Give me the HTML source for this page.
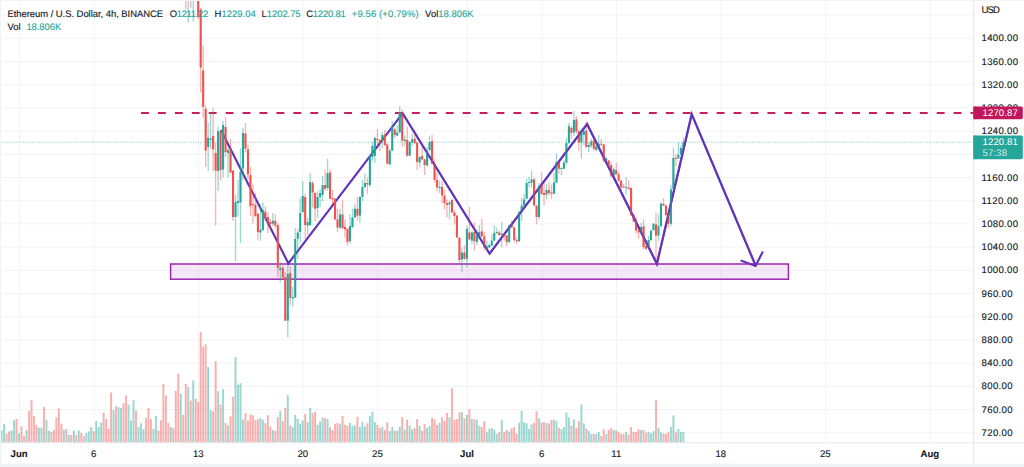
<!DOCTYPE html>
<html lang="en"><head><meta charset="utf-8"><title>ETHUSD 4h</title>
<style>html,body{margin:0;padding:0;background:#fff;}body{width:1024px;height:467px;overflow:hidden;}svg{display:block;}text{font-family:"Liberation Sans",sans-serif;text-rendering:geometricPrecision;}</style>
</head><body>
<svg width="1024" height="467" viewBox="0 0 1024 467">
<rect x="0" y="0" width="1024" height="467" fill="#ffffff"/>
<g stroke="#f2f3f7" stroke-width="1">
<line x1="0" y1="432.80" x2="973.5" y2="432.80"/>
<line x1="0" y1="409.59" x2="973.5" y2="409.59"/>
<line x1="0" y1="386.38" x2="973.5" y2="386.38"/>
<line x1="0" y1="363.18" x2="973.5" y2="363.18"/>
<line x1="0" y1="339.97" x2="973.5" y2="339.97"/>
<line x1="0" y1="316.76" x2="973.5" y2="316.76"/>
<line x1="0" y1="293.55" x2="973.5" y2="293.55"/>
<line x1="0" y1="270.34" x2="973.5" y2="270.34"/>
<line x1="0" y1="247.14" x2="973.5" y2="247.14"/>
<line x1="0" y1="223.93" x2="973.5" y2="223.93"/>
<line x1="0" y1="200.72" x2="973.5" y2="200.72"/>
<line x1="0" y1="177.51" x2="973.5" y2="177.51"/>
<line x1="0" y1="154.30" x2="973.5" y2="154.30"/>
<line x1="0" y1="131.10" x2="973.5" y2="131.10"/>
<line x1="0" y1="107.89" x2="973.5" y2="107.89"/>
<line x1="0" y1="84.68" x2="973.5" y2="84.68"/>
<line x1="0" y1="61.47" x2="973.5" y2="61.47"/>
<line x1="0" y1="38.26" x2="973.5" y2="38.26"/>
<line x1="0" y1="15.06" x2="973.5" y2="15.06"/>
<line x1="19.44" y1="0" x2="19.44" y2="442.8"/>
<line x1="94.09" y1="0" x2="94.09" y2="442.8"/>
<line x1="198.60" y1="0" x2="198.60" y2="442.8"/>
<line x1="303.11" y1="0" x2="303.11" y2="442.8"/>
<line x1="377.76" y1="0" x2="377.76" y2="442.8"/>
<line x1="467.34" y1="0" x2="467.34" y2="442.8"/>
<line x1="541.99" y1="0" x2="541.99" y2="442.8"/>
<line x1="616.64" y1="0" x2="616.64" y2="442.8"/>
<line x1="721.15" y1="0" x2="721.15" y2="442.8"/>
<line x1="825.66" y1="0" x2="825.66" y2="442.8"/>
<line x1="930.17" y1="0" x2="930.17" y2="442.8"/>
</g>
<g>
<rect x="0.80" y="430.62" width="1.7" height="11.68" fill="rgba(38,166,154,0.45)" stroke="rgba(38,166,154,0.2)" stroke-width="0.4"/>
<rect x="3.29" y="424.38" width="1.7" height="17.93" fill="rgba(38,166,154,0.45)" stroke="rgba(38,166,154,0.2)" stroke-width="0.4"/>
<rect x="5.77" y="434.06" width="1.7" height="8.24" fill="rgba(239,83,80,0.45)" stroke="rgba(239,83,80,0.2)" stroke-width="0.4"/>
<rect x="8.26" y="431.72" width="1.7" height="10.58" fill="rgba(239,83,80,0.45)" stroke="rgba(239,83,80,0.2)" stroke-width="0.4"/>
<rect x="10.75" y="430.62" width="1.7" height="11.68" fill="rgba(38,166,154,0.45)" stroke="rgba(38,166,154,0.2)" stroke-width="0.4"/>
<rect x="13.24" y="420.31" width="1.7" height="21.99" fill="rgba(38,166,154,0.45)" stroke="rgba(38,166,154,0.2)" stroke-width="0.4"/>
<rect x="15.73" y="419.06" width="1.7" height="23.24" fill="rgba(239,83,80,0.45)" stroke="rgba(239,83,80,0.2)" stroke-width="0.4"/>
<rect x="18.21" y="433.28" width="1.7" height="9.02" fill="rgba(38,166,154,0.45)" stroke="rgba(38,166,154,0.2)" stroke-width="0.4"/>
<rect x="20.70" y="426.56" width="1.7" height="15.74" fill="rgba(239,83,80,0.45)" stroke="rgba(239,83,80,0.2)" stroke-width="0.4"/>
<rect x="23.19" y="435.94" width="1.7" height="6.36" fill="rgba(239,83,80,0.45)" stroke="rgba(239,83,80,0.2)" stroke-width="0.4"/>
<rect x="25.68" y="430.31" width="1.7" height="11.99" fill="rgba(38,166,154,0.45)" stroke="rgba(38,166,154,0.2)" stroke-width="0.4"/>
<rect x="28.17" y="410.94" width="1.7" height="31.36" fill="rgba(239,83,80,0.45)" stroke="rgba(239,83,80,0.2)" stroke-width="0.4"/>
<rect x="30.65" y="400.00" width="1.7" height="42.30" fill="rgba(239,83,80,0.45)" stroke="rgba(239,83,80,0.2)" stroke-width="0.4"/>
<rect x="33.14" y="416.41" width="1.7" height="25.89" fill="rgba(239,83,80,0.45)" stroke="rgba(239,83,80,0.2)" stroke-width="0.4"/>
<rect x="35.63" y="425.16" width="1.7" height="17.14" fill="rgba(239,83,80,0.45)" stroke="rgba(239,83,80,0.2)" stroke-width="0.4"/>
<rect x="38.12" y="427.81" width="1.7" height="14.49" fill="rgba(38,166,154,0.45)" stroke="rgba(38,166,154,0.2)" stroke-width="0.4"/>
<rect x="40.61" y="427.81" width="1.7" height="14.49" fill="rgba(38,166,154,0.45)" stroke="rgba(38,166,154,0.2)" stroke-width="0.4"/>
<rect x="43.09" y="407.19" width="1.7" height="35.11" fill="rgba(239,83,80,0.45)" stroke="rgba(239,83,80,0.2)" stroke-width="0.4"/>
<rect x="45.58" y="420.00" width="1.7" height="22.30" fill="rgba(38,166,154,0.45)" stroke="rgba(38,166,154,0.2)" stroke-width="0.4"/>
<rect x="48.07" y="430.94" width="1.7" height="11.36" fill="rgba(38,166,154,0.45)" stroke="rgba(38,166,154,0.2)" stroke-width="0.4"/>
<rect x="50.56" y="432.19" width="1.7" height="10.11" fill="rgba(239,83,80,0.45)" stroke="rgba(239,83,80,0.2)" stroke-width="0.4"/>
<rect x="53.05" y="430.16" width="1.7" height="12.14" fill="rgba(239,83,80,0.45)" stroke="rgba(239,83,80,0.2)" stroke-width="0.4"/>
<rect x="55.53" y="417.66" width="1.7" height="24.64" fill="rgba(239,83,80,0.45)" stroke="rgba(239,83,80,0.2)" stroke-width="0.4"/>
<rect x="58.02" y="408.75" width="1.7" height="33.55" fill="rgba(239,83,80,0.45)" stroke="rgba(239,83,80,0.2)" stroke-width="0.4"/>
<rect x="60.51" y="423.91" width="1.7" height="18.39" fill="rgba(239,83,80,0.45)" stroke="rgba(239,83,80,0.2)" stroke-width="0.4"/>
<rect x="63.00" y="430.00" width="1.7" height="12.30" fill="rgba(38,166,154,0.45)" stroke="rgba(38,166,154,0.2)" stroke-width="0.4"/>
<rect x="65.49" y="429.06" width="1.7" height="13.24" fill="rgba(239,83,80,0.45)" stroke="rgba(239,83,80,0.2)" stroke-width="0.4"/>
<rect x="67.97" y="435.00" width="1.7" height="7.30" fill="rgba(38,166,154,0.45)" stroke="rgba(38,166,154,0.2)" stroke-width="0.4"/>
<rect x="70.46" y="435.00" width="1.7" height="7.30" fill="rgba(239,83,80,0.45)" stroke="rgba(239,83,80,0.2)" stroke-width="0.4"/>
<rect x="72.95" y="430.62" width="1.7" height="11.68" fill="rgba(38,166,154,0.45)" stroke="rgba(38,166,154,0.2)" stroke-width="0.4"/>
<rect x="75.44" y="435.00" width="1.7" height="7.30" fill="rgba(239,83,80,0.45)" stroke="rgba(239,83,80,0.2)" stroke-width="0.4"/>
<rect x="77.93" y="430.62" width="1.7" height="11.68" fill="rgba(38,166,154,0.45)" stroke="rgba(38,166,154,0.2)" stroke-width="0.4"/>
<rect x="80.41" y="432.97" width="1.7" height="9.33" fill="rgba(239,83,80,0.45)" stroke="rgba(239,83,80,0.2)" stroke-width="0.4"/>
<rect x="82.90" y="436.09" width="1.7" height="6.21" fill="rgba(239,83,80,0.45)" stroke="rgba(239,83,80,0.2)" stroke-width="0.4"/>
<rect x="85.39" y="433.44" width="1.7" height="8.86" fill="rgba(38,166,154,0.45)" stroke="rgba(38,166,154,0.2)" stroke-width="0.4"/>
<rect x="87.88" y="431.72" width="1.7" height="10.58" fill="rgba(38,166,154,0.45)" stroke="rgba(38,166,154,0.2)" stroke-width="0.4"/>
<rect x="90.37" y="427.19" width="1.7" height="15.11" fill="rgba(38,166,154,0.45)" stroke="rgba(38,166,154,0.2)" stroke-width="0.4"/>
<rect x="92.85" y="431.41" width="1.7" height="10.89" fill="rgba(239,83,80,0.45)" stroke="rgba(239,83,80,0.2)" stroke-width="0.4"/>
<rect x="95.34" y="421.25" width="1.7" height="21.05" fill="rgba(38,166,154,0.45)" stroke="rgba(38,166,154,0.2)" stroke-width="0.4"/>
<rect x="97.83" y="427.34" width="1.7" height="14.96" fill="rgba(38,166,154,0.45)" stroke="rgba(38,166,154,0.2)" stroke-width="0.4"/>
<rect x="100.32" y="422.66" width="1.7" height="19.64" fill="rgba(38,166,154,0.45)" stroke="rgba(38,166,154,0.2)" stroke-width="0.4"/>
<rect x="102.81" y="412.97" width="1.7" height="29.33" fill="rgba(239,83,80,0.45)" stroke="rgba(239,83,80,0.2)" stroke-width="0.4"/>
<rect x="105.29" y="419.22" width="1.7" height="23.08" fill="rgba(239,83,80,0.45)" stroke="rgba(239,83,80,0.2)" stroke-width="0.4"/>
<rect x="107.78" y="428.91" width="1.7" height="13.39" fill="rgba(239,83,80,0.45)" stroke="rgba(239,83,80,0.2)" stroke-width="0.4"/>
<rect x="110.27" y="392.66" width="1.7" height="49.64" fill="rgba(239,83,80,0.45)" stroke="rgba(239,83,80,0.2)" stroke-width="0.4"/>
<rect x="112.76" y="410.31" width="1.7" height="31.99" fill="rgba(38,166,154,0.45)" stroke="rgba(38,166,154,0.2)" stroke-width="0.4"/>
<rect x="115.25" y="406.25" width="1.7" height="36.05" fill="rgba(239,83,80,0.45)" stroke="rgba(239,83,80,0.2)" stroke-width="0.4"/>
<rect x="117.73" y="407.50" width="1.7" height="34.80" fill="rgba(38,166,154,0.45)" stroke="rgba(38,166,154,0.2)" stroke-width="0.4"/>
<rect x="120.22" y="407.97" width="1.7" height="34.33" fill="rgba(38,166,154,0.45)" stroke="rgba(38,166,154,0.2)" stroke-width="0.4"/>
<rect x="122.71" y="403.12" width="1.7" height="39.18" fill="rgba(239,83,80,0.45)" stroke="rgba(239,83,80,0.2)" stroke-width="0.4"/>
<rect x="125.20" y="395.78" width="1.7" height="46.52" fill="rgba(239,83,80,0.45)" stroke="rgba(239,83,80,0.2)" stroke-width="0.4"/>
<rect x="127.69" y="404.69" width="1.7" height="37.61" fill="rgba(38,166,154,0.45)" stroke="rgba(38,166,154,0.2)" stroke-width="0.4"/>
<rect x="130.17" y="420.78" width="1.7" height="21.52" fill="rgba(38,166,154,0.45)" stroke="rgba(38,166,154,0.2)" stroke-width="0.4"/>
<rect x="132.66" y="400.16" width="1.7" height="42.14" fill="rgba(38,166,154,0.45)" stroke="rgba(38,166,154,0.2)" stroke-width="0.4"/>
<rect x="135.15" y="410.94" width="1.7" height="31.36" fill="rgba(239,83,80,0.45)" stroke="rgba(239,83,80,0.2)" stroke-width="0.4"/>
<rect x="137.64" y="427.19" width="1.7" height="15.11" fill="rgba(38,166,154,0.45)" stroke="rgba(38,166,154,0.2)" stroke-width="0.4"/>
<rect x="140.13" y="423.44" width="1.7" height="18.86" fill="rgba(38,166,154,0.45)" stroke="rgba(38,166,154,0.2)" stroke-width="0.4"/>
<rect x="142.61" y="429.38" width="1.7" height="12.93" fill="rgba(38,166,154,0.45)" stroke="rgba(38,166,154,0.2)" stroke-width="0.4"/>
<rect x="145.10" y="417.97" width="1.7" height="24.33" fill="rgba(239,83,80,0.45)" stroke="rgba(239,83,80,0.2)" stroke-width="0.4"/>
<rect x="147.59" y="408.28" width="1.7" height="34.02" fill="rgba(239,83,80,0.45)" stroke="rgba(239,83,80,0.2)" stroke-width="0.4"/>
<rect x="150.08" y="419.22" width="1.7" height="23.08" fill="rgba(239,83,80,0.45)" stroke="rgba(239,83,80,0.2)" stroke-width="0.4"/>
<rect x="152.57" y="429.06" width="1.7" height="13.24" fill="rgba(38,166,154,0.45)" stroke="rgba(38,166,154,0.2)" stroke-width="0.4"/>
<rect x="155.05" y="416.09" width="1.7" height="26.21" fill="rgba(38,166,154,0.45)" stroke="rgba(38,166,154,0.2)" stroke-width="0.4"/>
<rect x="157.54" y="430.94" width="1.7" height="11.36" fill="rgba(239,83,80,0.45)" stroke="rgba(239,83,80,0.2)" stroke-width="0.4"/>
<rect x="160.03" y="420.31" width="1.7" height="21.99" fill="rgba(239,83,80,0.45)" stroke="rgba(239,83,80,0.2)" stroke-width="0.4"/>
<rect x="162.52" y="384.06" width="1.7" height="58.24" fill="rgba(239,83,80,0.45)" stroke="rgba(239,83,80,0.2)" stroke-width="0.4"/>
<rect x="165.01" y="395.78" width="1.7" height="46.52" fill="rgba(239,83,80,0.45)" stroke="rgba(239,83,80,0.2)" stroke-width="0.4"/>
<rect x="167.49" y="423.12" width="1.7" height="19.18" fill="rgba(239,83,80,0.45)" stroke="rgba(239,83,80,0.2)" stroke-width="0.4"/>
<rect x="169.98" y="427.03" width="1.7" height="15.27" fill="rgba(38,166,154,0.45)" stroke="rgba(38,166,154,0.2)" stroke-width="0.4"/>
<rect x="172.47" y="428.12" width="1.7" height="14.18" fill="rgba(239,83,80,0.45)" stroke="rgba(239,83,80,0.2)" stroke-width="0.4"/>
<rect x="174.96" y="391.09" width="1.7" height="51.21" fill="rgba(239,83,80,0.45)" stroke="rgba(239,83,80,0.2)" stroke-width="0.4"/>
<rect x="177.45" y="373.91" width="1.7" height="68.39" fill="rgba(239,83,80,0.45)" stroke="rgba(239,83,80,0.2)" stroke-width="0.4"/>
<rect x="179.93" y="393.91" width="1.7" height="48.39" fill="rgba(38,166,154,0.45)" stroke="rgba(38,166,154,0.2)" stroke-width="0.4"/>
<rect x="182.42" y="415.00" width="1.7" height="27.30" fill="rgba(239,83,80,0.45)" stroke="rgba(239,83,80,0.2)" stroke-width="0.4"/>
<rect x="184.91" y="384.06" width="1.7" height="58.24" fill="rgba(239,83,80,0.45)" stroke="rgba(239,83,80,0.2)" stroke-width="0.4"/>
<rect x="187.40" y="387.19" width="1.7" height="55.11" fill="rgba(38,166,154,0.45)" stroke="rgba(38,166,154,0.2)" stroke-width="0.4"/>
<rect x="189.89" y="400.78" width="1.7" height="41.52" fill="rgba(239,83,80,0.45)" stroke="rgba(239,83,80,0.2)" stroke-width="0.4"/>
<rect x="192.37" y="380.47" width="1.7" height="61.83" fill="rgba(38,166,154,0.45)" stroke="rgba(38,166,154,0.2)" stroke-width="0.4"/>
<rect x="194.86" y="398.91" width="1.7" height="43.39" fill="rgba(239,83,80,0.45)" stroke="rgba(239,83,80,0.2)" stroke-width="0.4"/>
<rect x="197.35" y="402.34" width="1.7" height="39.96" fill="rgba(239,83,80,0.45)" stroke="rgba(239,83,80,0.2)" stroke-width="0.4"/>
<rect x="199.84" y="332.34" width="1.7" height="109.96" fill="rgba(239,83,80,0.45)" stroke="rgba(239,83,80,0.2)" stroke-width="0.4"/>
<rect x="202.33" y="346.88" width="1.7" height="95.43" fill="rgba(239,83,80,0.45)" stroke="rgba(239,83,80,0.2)" stroke-width="0.4"/>
<rect x="204.81" y="344.53" width="1.7" height="97.77" fill="rgba(239,83,80,0.45)" stroke="rgba(239,83,80,0.2)" stroke-width="0.4"/>
<rect x="207.30" y="367.19" width="1.7" height="75.11" fill="rgba(38,166,154,0.45)" stroke="rgba(38,166,154,0.2)" stroke-width="0.4"/>
<rect x="209.79" y="410.31" width="1.7" height="31.99" fill="rgba(38,166,154,0.45)" stroke="rgba(38,166,154,0.2)" stroke-width="0.4"/>
<rect x="212.28" y="411.41" width="1.7" height="30.89" fill="rgba(239,83,80,0.45)" stroke="rgba(239,83,80,0.2)" stroke-width="0.4"/>
<rect x="214.77" y="361.56" width="1.7" height="80.74" fill="rgba(239,83,80,0.45)" stroke="rgba(239,83,80,0.2)" stroke-width="0.4"/>
<rect x="217.25" y="391.41" width="1.7" height="50.89" fill="rgba(38,166,154,0.45)" stroke="rgba(38,166,154,0.2)" stroke-width="0.4"/>
<rect x="219.74" y="404.69" width="1.7" height="37.61" fill="rgba(239,83,80,0.45)" stroke="rgba(239,83,80,0.2)" stroke-width="0.4"/>
<rect x="222.23" y="389.53" width="1.7" height="52.77" fill="rgba(38,166,154,0.45)" stroke="rgba(38,166,154,0.2)" stroke-width="0.4"/>
<rect x="224.72" y="423.12" width="1.7" height="19.18" fill="rgba(239,83,80,0.45)" stroke="rgba(239,83,80,0.2)" stroke-width="0.4"/>
<rect x="227.21" y="425.47" width="1.7" height="16.83" fill="rgba(38,166,154,0.45)" stroke="rgba(38,166,154,0.2)" stroke-width="0.4"/>
<rect x="229.69" y="416.41" width="1.7" height="25.89" fill="rgba(239,83,80,0.45)" stroke="rgba(239,83,80,0.2)" stroke-width="0.4"/>
<rect x="232.18" y="396.88" width="1.7" height="45.43" fill="rgba(239,83,80,0.45)" stroke="rgba(239,83,80,0.2)" stroke-width="0.4"/>
<rect x="234.67" y="357.34" width="1.7" height="84.96" fill="rgba(38,166,154,0.45)" stroke="rgba(38,166,154,0.2)" stroke-width="0.4"/>
<rect x="237.16" y="384.84" width="1.7" height="57.46" fill="rgba(38,166,154,0.45)" stroke="rgba(38,166,154,0.2)" stroke-width="0.4"/>
<rect x="239.65" y="383.28" width="1.7" height="59.02" fill="rgba(38,166,154,0.45)" stroke="rgba(38,166,154,0.2)" stroke-width="0.4"/>
<rect x="242.13" y="419.53" width="1.7" height="22.77" fill="rgba(38,166,154,0.45)" stroke="rgba(38,166,154,0.2)" stroke-width="0.4"/>
<rect x="244.62" y="413.28" width="1.7" height="29.02" fill="rgba(239,83,80,0.45)" stroke="rgba(239,83,80,0.2)" stroke-width="0.4"/>
<rect x="247.11" y="420.78" width="1.7" height="21.52" fill="rgba(239,83,80,0.45)" stroke="rgba(239,83,80,0.2)" stroke-width="0.4"/>
<rect x="249.60" y="414.53" width="1.7" height="27.77" fill="rgba(239,83,80,0.45)" stroke="rgba(239,83,80,0.2)" stroke-width="0.4"/>
<rect x="252.09" y="415.31" width="1.7" height="26.99" fill="rgba(239,83,80,0.45)" stroke="rgba(239,83,80,0.2)" stroke-width="0.4"/>
<rect x="254.57" y="420.31" width="1.7" height="21.99" fill="rgba(239,83,80,0.45)" stroke="rgba(239,83,80,0.2)" stroke-width="0.4"/>
<rect x="257.06" y="419.22" width="1.7" height="23.08" fill="rgba(239,83,80,0.45)" stroke="rgba(239,83,80,0.2)" stroke-width="0.4"/>
<rect x="259.55" y="418.12" width="1.7" height="24.18" fill="rgba(38,166,154,0.45)" stroke="rgba(38,166,154,0.2)" stroke-width="0.4"/>
<rect x="262.04" y="420.00" width="1.7" height="22.30" fill="rgba(38,166,154,0.45)" stroke="rgba(38,166,154,0.2)" stroke-width="0.4"/>
<rect x="264.53" y="423.44" width="1.7" height="18.86" fill="rgba(239,83,80,0.45)" stroke="rgba(239,83,80,0.2)" stroke-width="0.4"/>
<rect x="267.01" y="415.31" width="1.7" height="26.99" fill="rgba(239,83,80,0.45)" stroke="rgba(239,83,80,0.2)" stroke-width="0.4"/>
<rect x="269.50" y="426.56" width="1.7" height="15.74" fill="rgba(239,83,80,0.45)" stroke="rgba(239,83,80,0.2)" stroke-width="0.4"/>
<rect x="271.99" y="430.16" width="1.7" height="12.14" fill="rgba(38,166,154,0.45)" stroke="rgba(38,166,154,0.2)" stroke-width="0.4"/>
<rect x="274.48" y="430.94" width="1.7" height="11.36" fill="rgba(239,83,80,0.45)" stroke="rgba(239,83,80,0.2)" stroke-width="0.4"/>
<rect x="276.97" y="417.19" width="1.7" height="25.11" fill="rgba(239,83,80,0.45)" stroke="rgba(239,83,80,0.2)" stroke-width="0.4"/>
<rect x="279.45" y="411.25" width="1.7" height="31.05" fill="rgba(38,166,154,0.45)" stroke="rgba(38,166,154,0.2)" stroke-width="0.4"/>
<rect x="281.94" y="421.25" width="1.7" height="21.05" fill="rgba(239,83,80,0.45)" stroke="rgba(239,83,80,0.2)" stroke-width="0.4"/>
<rect x="284.43" y="407.97" width="1.7" height="34.33" fill="rgba(239,83,80,0.45)" stroke="rgba(239,83,80,0.2)" stroke-width="0.4"/>
<rect x="286.92" y="395.47" width="1.7" height="46.83" fill="rgba(38,166,154,0.45)" stroke="rgba(38,166,154,0.2)" stroke-width="0.4"/>
<rect x="289.41" y="425.78" width="1.7" height="16.52" fill="rgba(239,83,80,0.45)" stroke="rgba(239,83,80,0.2)" stroke-width="0.4"/>
<rect x="291.89" y="427.34" width="1.7" height="14.96" fill="rgba(38,166,154,0.45)" stroke="rgba(38,166,154,0.2)" stroke-width="0.4"/>
<rect x="294.38" y="415.00" width="1.7" height="27.30" fill="rgba(38,166,154,0.45)" stroke="rgba(38,166,154,0.2)" stroke-width="0.4"/>
<rect x="296.87" y="419.06" width="1.7" height="23.24" fill="rgba(38,166,154,0.45)" stroke="rgba(38,166,154,0.2)" stroke-width="0.4"/>
<rect x="299.36" y="423.91" width="1.7" height="18.39" fill="rgba(38,166,154,0.45)" stroke="rgba(38,166,154,0.2)" stroke-width="0.4"/>
<rect x="301.85" y="420.78" width="1.7" height="21.52" fill="rgba(38,166,154,0.45)" stroke="rgba(38,166,154,0.2)" stroke-width="0.4"/>
<rect x="304.33" y="414.22" width="1.7" height="28.08" fill="rgba(239,83,80,0.45)" stroke="rgba(239,83,80,0.2)" stroke-width="0.4"/>
<rect x="306.82" y="422.34" width="1.7" height="19.96" fill="rgba(38,166,154,0.45)" stroke="rgba(38,166,154,0.2)" stroke-width="0.4"/>
<rect x="309.31" y="407.97" width="1.7" height="34.33" fill="rgba(38,166,154,0.45)" stroke="rgba(38,166,154,0.2)" stroke-width="0.4"/>
<rect x="311.80" y="413.28" width="1.7" height="29.02" fill="rgba(239,83,80,0.45)" stroke="rgba(239,83,80,0.2)" stroke-width="0.4"/>
<rect x="314.29" y="411.88" width="1.7" height="30.43" fill="rgba(239,83,80,0.45)" stroke="rgba(239,83,80,0.2)" stroke-width="0.4"/>
<rect x="316.77" y="425.00" width="1.7" height="17.30" fill="rgba(38,166,154,0.45)" stroke="rgba(38,166,154,0.2)" stroke-width="0.4"/>
<rect x="319.26" y="421.88" width="1.7" height="20.43" fill="rgba(38,166,154,0.45)" stroke="rgba(38,166,154,0.2)" stroke-width="0.4"/>
<rect x="321.75" y="417.66" width="1.7" height="24.64" fill="rgba(38,166,154,0.45)" stroke="rgba(38,166,154,0.2)" stroke-width="0.4"/>
<rect x="324.24" y="418.44" width="1.7" height="23.86" fill="rgba(239,83,80,0.45)" stroke="rgba(239,83,80,0.2)" stroke-width="0.4"/>
<rect x="326.73" y="419.06" width="1.7" height="23.24" fill="rgba(38,166,154,0.45)" stroke="rgba(38,166,154,0.2)" stroke-width="0.4"/>
<rect x="329.21" y="427.34" width="1.7" height="14.96" fill="rgba(239,83,80,0.45)" stroke="rgba(239,83,80,0.2)" stroke-width="0.4"/>
<rect x="331.70" y="430.16" width="1.7" height="12.14" fill="rgba(239,83,80,0.45)" stroke="rgba(239,83,80,0.2)" stroke-width="0.4"/>
<rect x="334.19" y="423.91" width="1.7" height="18.39" fill="rgba(239,83,80,0.45)" stroke="rgba(239,83,80,0.2)" stroke-width="0.4"/>
<rect x="336.68" y="423.12" width="1.7" height="19.18" fill="rgba(239,83,80,0.45)" stroke="rgba(239,83,80,0.2)" stroke-width="0.4"/>
<rect x="339.17" y="424.38" width="1.7" height="17.93" fill="rgba(38,166,154,0.45)" stroke="rgba(38,166,154,0.2)" stroke-width="0.4"/>
<rect x="341.65" y="416.09" width="1.7" height="26.21" fill="rgba(239,83,80,0.45)" stroke="rgba(239,83,80,0.2)" stroke-width="0.4"/>
<rect x="344.14" y="425.00" width="1.7" height="17.30" fill="rgba(239,83,80,0.45)" stroke="rgba(239,83,80,0.2)" stroke-width="0.4"/>
<rect x="346.63" y="425.94" width="1.7" height="16.36" fill="rgba(239,83,80,0.45)" stroke="rgba(239,83,80,0.2)" stroke-width="0.4"/>
<rect x="349.12" y="423.12" width="1.7" height="19.18" fill="rgba(38,166,154,0.45)" stroke="rgba(38,166,154,0.2)" stroke-width="0.4"/>
<rect x="351.61" y="426.25" width="1.7" height="16.05" fill="rgba(38,166,154,0.45)" stroke="rgba(38,166,154,0.2)" stroke-width="0.4"/>
<rect x="354.09" y="425.47" width="1.7" height="16.83" fill="rgba(38,166,154,0.45)" stroke="rgba(38,166,154,0.2)" stroke-width="0.4"/>
<rect x="356.58" y="416.88" width="1.7" height="25.43" fill="rgba(239,83,80,0.45)" stroke="rgba(239,83,80,0.2)" stroke-width="0.4"/>
<rect x="359.07" y="427.03" width="1.7" height="15.27" fill="rgba(38,166,154,0.45)" stroke="rgba(38,166,154,0.2)" stroke-width="0.4"/>
<rect x="361.56" y="421.88" width="1.7" height="20.43" fill="rgba(38,166,154,0.45)" stroke="rgba(38,166,154,0.2)" stroke-width="0.4"/>
<rect x="364.05" y="426.56" width="1.7" height="15.74" fill="rgba(38,166,154,0.45)" stroke="rgba(38,166,154,0.2)" stroke-width="0.4"/>
<rect x="366.53" y="423.44" width="1.7" height="18.86" fill="rgba(239,83,80,0.45)" stroke="rgba(239,83,80,0.2)" stroke-width="0.4"/>
<rect x="369.02" y="416.09" width="1.7" height="26.21" fill="rgba(38,166,154,0.45)" stroke="rgba(38,166,154,0.2)" stroke-width="0.4"/>
<rect x="371.51" y="411.88" width="1.7" height="30.43" fill="rgba(38,166,154,0.45)" stroke="rgba(38,166,154,0.2)" stroke-width="0.4"/>
<rect x="374.00" y="422.03" width="1.7" height="20.27" fill="rgba(38,166,154,0.45)" stroke="rgba(38,166,154,0.2)" stroke-width="0.4"/>
<rect x="376.49" y="425.16" width="1.7" height="17.14" fill="rgba(239,83,80,0.45)" stroke="rgba(239,83,80,0.2)" stroke-width="0.4"/>
<rect x="378.97" y="428.12" width="1.7" height="14.18" fill="rgba(239,83,80,0.45)" stroke="rgba(239,83,80,0.2)" stroke-width="0.4"/>
<rect x="381.46" y="427.03" width="1.7" height="15.27" fill="rgba(38,166,154,0.45)" stroke="rgba(38,166,154,0.2)" stroke-width="0.4"/>
<rect x="383.95" y="430.16" width="1.7" height="12.14" fill="rgba(239,83,80,0.45)" stroke="rgba(239,83,80,0.2)" stroke-width="0.4"/>
<rect x="386.44" y="422.34" width="1.7" height="19.96" fill="rgba(239,83,80,0.45)" stroke="rgba(239,83,80,0.2)" stroke-width="0.4"/>
<rect x="388.93" y="431.25" width="1.7" height="11.05" fill="rgba(38,166,154,0.45)" stroke="rgba(38,166,154,0.2)" stroke-width="0.4"/>
<rect x="391.41" y="427.34" width="1.7" height="14.96" fill="rgba(38,166,154,0.45)" stroke="rgba(38,166,154,0.2)" stroke-width="0.4"/>
<rect x="393.90" y="430.94" width="1.7" height="11.36" fill="rgba(239,83,80,0.45)" stroke="rgba(239,83,80,0.2)" stroke-width="0.4"/>
<rect x="396.39" y="430.94" width="1.7" height="11.36" fill="rgba(38,166,154,0.45)" stroke="rgba(38,166,154,0.2)" stroke-width="0.4"/>
<rect x="398.88" y="427.03" width="1.7" height="15.27" fill="rgba(38,166,154,0.45)" stroke="rgba(38,166,154,0.2)" stroke-width="0.4"/>
<rect x="401.37" y="417.34" width="1.7" height="24.96" fill="rgba(239,83,80,0.45)" stroke="rgba(239,83,80,0.2)" stroke-width="0.4"/>
<rect x="403.85" y="429.69" width="1.7" height="12.61" fill="rgba(38,166,154,0.45)" stroke="rgba(38,166,154,0.2)" stroke-width="0.4"/>
<rect x="406.34" y="420.00" width="1.7" height="22.30" fill="rgba(239,83,80,0.45)" stroke="rgba(239,83,80,0.2)" stroke-width="0.4"/>
<rect x="408.83" y="425.78" width="1.7" height="16.52" fill="rgba(38,166,154,0.45)" stroke="rgba(38,166,154,0.2)" stroke-width="0.4"/>
<rect x="411.32" y="429.38" width="1.7" height="12.93" fill="rgba(38,166,154,0.45)" stroke="rgba(38,166,154,0.2)" stroke-width="0.4"/>
<rect x="413.81" y="428.12" width="1.7" height="14.18" fill="rgba(239,83,80,0.45)" stroke="rgba(239,83,80,0.2)" stroke-width="0.4"/>
<rect x="416.29" y="419.22" width="1.7" height="23.08" fill="rgba(239,83,80,0.45)" stroke="rgba(239,83,80,0.2)" stroke-width="0.4"/>
<rect x="418.78" y="425.94" width="1.7" height="16.36" fill="rgba(38,166,154,0.45)" stroke="rgba(38,166,154,0.2)" stroke-width="0.4"/>
<rect x="421.27" y="430.94" width="1.7" height="11.36" fill="rgba(239,83,80,0.45)" stroke="rgba(239,83,80,0.2)" stroke-width="0.4"/>
<rect x="423.76" y="424.22" width="1.7" height="18.08" fill="rgba(239,83,80,0.45)" stroke="rgba(239,83,80,0.2)" stroke-width="0.4"/>
<rect x="426.25" y="428.12" width="1.7" height="14.18" fill="rgba(38,166,154,0.45)" stroke="rgba(38,166,154,0.2)" stroke-width="0.4"/>
<rect x="428.73" y="426.25" width="1.7" height="16.05" fill="rgba(38,166,154,0.45)" stroke="rgba(38,166,154,0.2)" stroke-width="0.4"/>
<rect x="431.22" y="417.97" width="1.7" height="24.33" fill="rgba(239,83,80,0.45)" stroke="rgba(239,83,80,0.2)" stroke-width="0.4"/>
<rect x="433.71" y="419.69" width="1.7" height="22.61" fill="rgba(239,83,80,0.45)" stroke="rgba(239,83,80,0.2)" stroke-width="0.4"/>
<rect x="436.20" y="425.16" width="1.7" height="17.14" fill="rgba(239,83,80,0.45)" stroke="rgba(239,83,80,0.2)" stroke-width="0.4"/>
<rect x="438.69" y="423.12" width="1.7" height="19.18" fill="rgba(38,166,154,0.45)" stroke="rgba(38,166,154,0.2)" stroke-width="0.4"/>
<rect x="441.17" y="417.34" width="1.7" height="24.96" fill="rgba(239,83,80,0.45)" stroke="rgba(239,83,80,0.2)" stroke-width="0.4"/>
<rect x="443.66" y="421.09" width="1.7" height="21.21" fill="rgba(239,83,80,0.45)" stroke="rgba(239,83,80,0.2)" stroke-width="0.4"/>
<rect x="446.15" y="412.97" width="1.7" height="29.33" fill="rgba(239,83,80,0.45)" stroke="rgba(239,83,80,0.2)" stroke-width="0.4"/>
<rect x="448.64" y="417.66" width="1.7" height="24.64" fill="rgba(38,166,154,0.45)" stroke="rgba(38,166,154,0.2)" stroke-width="0.4"/>
<rect x="451.13" y="388.44" width="1.7" height="53.86" fill="rgba(239,83,80,0.45)" stroke="rgba(239,83,80,0.2)" stroke-width="0.4"/>
<rect x="453.61" y="420.00" width="1.7" height="22.30" fill="rgba(239,83,80,0.45)" stroke="rgba(239,83,80,0.2)" stroke-width="0.4"/>
<rect x="456.10" y="419.22" width="1.7" height="23.08" fill="rgba(239,83,80,0.45)" stroke="rgba(239,83,80,0.2)" stroke-width="0.4"/>
<rect x="458.59" y="412.19" width="1.7" height="30.11" fill="rgba(239,83,80,0.45)" stroke="rgba(239,83,80,0.2)" stroke-width="0.4"/>
<rect x="461.08" y="412.19" width="1.7" height="30.11" fill="rgba(38,166,154,0.45)" stroke="rgba(38,166,154,0.2)" stroke-width="0.4"/>
<rect x="463.57" y="418.44" width="1.7" height="23.86" fill="rgba(239,83,80,0.45)" stroke="rgba(239,83,80,0.2)" stroke-width="0.4"/>
<rect x="466.05" y="415.00" width="1.7" height="27.30" fill="rgba(38,166,154,0.45)" stroke="rgba(38,166,154,0.2)" stroke-width="0.4"/>
<rect x="468.54" y="409.53" width="1.7" height="32.77" fill="rgba(239,83,80,0.45)" stroke="rgba(239,83,80,0.2)" stroke-width="0.4"/>
<rect x="471.03" y="419.22" width="1.7" height="23.08" fill="rgba(38,166,154,0.45)" stroke="rgba(38,166,154,0.2)" stroke-width="0.4"/>
<rect x="473.52" y="419.53" width="1.7" height="22.77" fill="rgba(239,83,80,0.45)" stroke="rgba(239,83,80,0.2)" stroke-width="0.4"/>
<rect x="476.01" y="420.00" width="1.7" height="22.30" fill="rgba(38,166,154,0.45)" stroke="rgba(38,166,154,0.2)" stroke-width="0.4"/>
<rect x="478.49" y="426.25" width="1.7" height="16.05" fill="rgba(38,166,154,0.45)" stroke="rgba(38,166,154,0.2)" stroke-width="0.4"/>
<rect x="480.98" y="427.34" width="1.7" height="14.96" fill="rgba(239,83,80,0.45)" stroke="rgba(239,83,80,0.2)" stroke-width="0.4"/>
<rect x="483.47" y="421.25" width="1.7" height="21.05" fill="rgba(239,83,80,0.45)" stroke="rgba(239,83,80,0.2)" stroke-width="0.4"/>
<rect x="485.96" y="432.50" width="1.7" height="9.80" fill="rgba(38,166,154,0.45)" stroke="rgba(38,166,154,0.2)" stroke-width="0.4"/>
<rect x="488.45" y="428.91" width="1.7" height="13.39" fill="rgba(38,166,154,0.45)" stroke="rgba(38,166,154,0.2)" stroke-width="0.4"/>
<rect x="490.93" y="428.28" width="1.7" height="14.02" fill="rgba(38,166,154,0.45)" stroke="rgba(38,166,154,0.2)" stroke-width="0.4"/>
<rect x="493.42" y="429.69" width="1.7" height="12.61" fill="rgba(38,166,154,0.45)" stroke="rgba(38,166,154,0.2)" stroke-width="0.4"/>
<rect x="495.91" y="434.06" width="1.7" height="8.24" fill="rgba(38,166,154,0.45)" stroke="rgba(38,166,154,0.2)" stroke-width="0.4"/>
<rect x="498.40" y="432.19" width="1.7" height="10.11" fill="rgba(239,83,80,0.45)" stroke="rgba(239,83,80,0.2)" stroke-width="0.4"/>
<rect x="500.89" y="420.31" width="1.7" height="21.99" fill="rgba(38,166,154,0.45)" stroke="rgba(38,166,154,0.2)" stroke-width="0.4"/>
<rect x="503.37" y="432.19" width="1.7" height="10.11" fill="rgba(239,83,80,0.45)" stroke="rgba(239,83,80,0.2)" stroke-width="0.4"/>
<rect x="505.86" y="430.16" width="1.7" height="12.14" fill="rgba(239,83,80,0.45)" stroke="rgba(239,83,80,0.2)" stroke-width="0.4"/>
<rect x="508.35" y="431.72" width="1.7" height="10.58" fill="rgba(38,166,154,0.45)" stroke="rgba(38,166,154,0.2)" stroke-width="0.4"/>
<rect x="510.84" y="428.59" width="1.7" height="13.71" fill="rgba(239,83,80,0.45)" stroke="rgba(239,83,80,0.2)" stroke-width="0.4"/>
<rect x="513.33" y="427.34" width="1.7" height="14.96" fill="rgba(239,83,80,0.45)" stroke="rgba(239,83,80,0.2)" stroke-width="0.4"/>
<rect x="515.81" y="434.06" width="1.7" height="8.24" fill="rgba(239,83,80,0.45)" stroke="rgba(239,83,80,0.2)" stroke-width="0.4"/>
<rect x="518.30" y="422.81" width="1.7" height="19.49" fill="rgba(38,166,154,0.45)" stroke="rgba(38,166,154,0.2)" stroke-width="0.4"/>
<rect x="520.79" y="410.94" width="1.7" height="31.36" fill="rgba(38,166,154,0.45)" stroke="rgba(38,166,154,0.2)" stroke-width="0.4"/>
<rect x="523.28" y="422.34" width="1.7" height="19.96" fill="rgba(38,166,154,0.45)" stroke="rgba(38,166,154,0.2)" stroke-width="0.4"/>
<rect x="525.77" y="423.44" width="1.7" height="18.86" fill="rgba(38,166,154,0.45)" stroke="rgba(38,166,154,0.2)" stroke-width="0.4"/>
<rect x="528.25" y="429.06" width="1.7" height="13.24" fill="rgba(38,166,154,0.45)" stroke="rgba(38,166,154,0.2)" stroke-width="0.4"/>
<rect x="530.74" y="424.69" width="1.7" height="17.61" fill="rgba(38,166,154,0.45)" stroke="rgba(38,166,154,0.2)" stroke-width="0.4"/>
<rect x="533.23" y="422.81" width="1.7" height="19.49" fill="rgba(239,83,80,0.45)" stroke="rgba(239,83,80,0.2)" stroke-width="0.4"/>
<rect x="535.72" y="411.41" width="1.7" height="30.89" fill="rgba(239,83,80,0.45)" stroke="rgba(239,83,80,0.2)" stroke-width="0.4"/>
<rect x="538.21" y="418.44" width="1.7" height="23.86" fill="rgba(38,166,154,0.45)" stroke="rgba(38,166,154,0.2)" stroke-width="0.4"/>
<rect x="540.69" y="422.66" width="1.7" height="19.64" fill="rgba(239,83,80,0.45)" stroke="rgba(239,83,80,0.2)" stroke-width="0.4"/>
<rect x="543.18" y="422.34" width="1.7" height="19.96" fill="rgba(239,83,80,0.45)" stroke="rgba(239,83,80,0.2)" stroke-width="0.4"/>
<rect x="545.67" y="423.12" width="1.7" height="19.18" fill="rgba(38,166,154,0.45)" stroke="rgba(38,166,154,0.2)" stroke-width="0.4"/>
<rect x="548.16" y="423.59" width="1.7" height="18.71" fill="rgba(239,83,80,0.45)" stroke="rgba(239,83,80,0.2)" stroke-width="0.4"/>
<rect x="550.65" y="420.00" width="1.7" height="22.30" fill="rgba(239,83,80,0.45)" stroke="rgba(239,83,80,0.2)" stroke-width="0.4"/>
<rect x="553.13" y="420.00" width="1.7" height="22.30" fill="rgba(38,166,154,0.45)" stroke="rgba(38,166,154,0.2)" stroke-width="0.4"/>
<rect x="555.62" y="421.25" width="1.7" height="21.05" fill="rgba(38,166,154,0.45)" stroke="rgba(38,166,154,0.2)" stroke-width="0.4"/>
<rect x="558.11" y="427.81" width="1.7" height="14.49" fill="rgba(239,83,80,0.45)" stroke="rgba(239,83,80,0.2)" stroke-width="0.4"/>
<rect x="560.60" y="429.38" width="1.7" height="12.93" fill="rgba(38,166,154,0.45)" stroke="rgba(38,166,154,0.2)" stroke-width="0.4"/>
<rect x="563.09" y="427.34" width="1.7" height="14.96" fill="rgba(38,166,154,0.45)" stroke="rgba(38,166,154,0.2)" stroke-width="0.4"/>
<rect x="565.57" y="412.66" width="1.7" height="29.64" fill="rgba(38,166,154,0.45)" stroke="rgba(38,166,154,0.2)" stroke-width="0.4"/>
<rect x="568.06" y="417.81" width="1.7" height="24.49" fill="rgba(38,166,154,0.45)" stroke="rgba(38,166,154,0.2)" stroke-width="0.4"/>
<rect x="570.55" y="425.78" width="1.7" height="16.52" fill="rgba(239,83,80,0.45)" stroke="rgba(239,83,80,0.2)" stroke-width="0.4"/>
<rect x="573.04" y="419.69" width="1.7" height="22.61" fill="rgba(38,166,154,0.45)" stroke="rgba(38,166,154,0.2)" stroke-width="0.4"/>
<rect x="575.53" y="427.81" width="1.7" height="14.49" fill="rgba(239,83,80,0.45)" stroke="rgba(239,83,80,0.2)" stroke-width="0.4"/>
<rect x="578.01" y="421.56" width="1.7" height="20.74" fill="rgba(239,83,80,0.45)" stroke="rgba(239,83,80,0.2)" stroke-width="0.4"/>
<rect x="580.50" y="404.69" width="1.7" height="37.61" fill="rgba(38,166,154,0.45)" stroke="rgba(38,166,154,0.2)" stroke-width="0.4"/>
<rect x="582.99" y="423.59" width="1.7" height="18.71" fill="rgba(38,166,154,0.45)" stroke="rgba(38,166,154,0.2)" stroke-width="0.4"/>
<rect x="585.48" y="428.91" width="1.7" height="13.39" fill="rgba(239,83,80,0.45)" stroke="rgba(239,83,80,0.2)" stroke-width="0.4"/>
<rect x="587.97" y="431.25" width="1.7" height="11.05" fill="rgba(38,166,154,0.45)" stroke="rgba(38,166,154,0.2)" stroke-width="0.4"/>
<rect x="590.45" y="434.06" width="1.7" height="8.24" fill="rgba(38,166,154,0.45)" stroke="rgba(38,166,154,0.2)" stroke-width="0.4"/>
<rect x="592.94" y="434.06" width="1.7" height="8.24" fill="rgba(239,83,80,0.45)" stroke="rgba(239,83,80,0.2)" stroke-width="0.4"/>
<rect x="595.43" y="434.06" width="1.7" height="8.24" fill="rgba(38,166,154,0.45)" stroke="rgba(38,166,154,0.2)" stroke-width="0.4"/>
<rect x="597.92" y="432.19" width="1.7" height="10.11" fill="rgba(38,166,154,0.45)" stroke="rgba(38,166,154,0.2)" stroke-width="0.4"/>
<rect x="600.41" y="436.09" width="1.7" height="6.21" fill="rgba(239,83,80,0.45)" stroke="rgba(239,83,80,0.2)" stroke-width="0.4"/>
<rect x="602.89" y="429.53" width="1.7" height="12.77" fill="rgba(239,83,80,0.45)" stroke="rgba(239,83,80,0.2)" stroke-width="0.4"/>
<rect x="605.38" y="434.06" width="1.7" height="8.24" fill="rgba(38,166,154,0.45)" stroke="rgba(38,166,154,0.2)" stroke-width="0.4"/>
<rect x="607.87" y="430.16" width="1.7" height="12.14" fill="rgba(239,83,80,0.45)" stroke="rgba(239,83,80,0.2)" stroke-width="0.4"/>
<rect x="610.36" y="428.12" width="1.7" height="14.18" fill="rgba(239,83,80,0.45)" stroke="rgba(239,83,80,0.2)" stroke-width="0.4"/>
<rect x="612.85" y="430.31" width="1.7" height="11.99" fill="rgba(38,166,154,0.45)" stroke="rgba(38,166,154,0.2)" stroke-width="0.4"/>
<rect x="615.33" y="430.62" width="1.7" height="11.68" fill="rgba(239,83,80,0.45)" stroke="rgba(239,83,80,0.2)" stroke-width="0.4"/>
<rect x="617.82" y="432.50" width="1.7" height="9.80" fill="rgba(239,83,80,0.45)" stroke="rgba(239,83,80,0.2)" stroke-width="0.4"/>
<rect x="620.31" y="434.06" width="1.7" height="8.24" fill="rgba(239,83,80,0.45)" stroke="rgba(239,83,80,0.2)" stroke-width="0.4"/>
<rect x="622.80" y="434.06" width="1.7" height="8.24" fill="rgba(239,83,80,0.45)" stroke="rgba(239,83,80,0.2)" stroke-width="0.4"/>
<rect x="625.29" y="432.03" width="1.7" height="10.27" fill="rgba(38,166,154,0.45)" stroke="rgba(38,166,154,0.2)" stroke-width="0.4"/>
<rect x="627.77" y="434.84" width="1.7" height="7.46" fill="rgba(239,83,80,0.45)" stroke="rgba(239,83,80,0.2)" stroke-width="0.4"/>
<rect x="630.26" y="427.34" width="1.7" height="14.96" fill="rgba(239,83,80,0.45)" stroke="rgba(239,83,80,0.2)" stroke-width="0.4"/>
<rect x="632.75" y="432.03" width="1.7" height="10.27" fill="rgba(239,83,80,0.45)" stroke="rgba(239,83,80,0.2)" stroke-width="0.4"/>
<rect x="635.24" y="432.19" width="1.7" height="10.11" fill="rgba(239,83,80,0.45)" stroke="rgba(239,83,80,0.2)" stroke-width="0.4"/>
<rect x="637.73" y="429.38" width="1.7" height="12.93" fill="rgba(239,83,80,0.45)" stroke="rgba(239,83,80,0.2)" stroke-width="0.4"/>
<rect x="640.21" y="430.16" width="1.7" height="12.14" fill="rgba(38,166,154,0.45)" stroke="rgba(38,166,154,0.2)" stroke-width="0.4"/>
<rect x="642.70" y="430.16" width="1.7" height="12.14" fill="rgba(239,83,80,0.45)" stroke="rgba(239,83,80,0.2)" stroke-width="0.4"/>
<rect x="645.19" y="432.97" width="1.7" height="9.33" fill="rgba(239,83,80,0.45)" stroke="rgba(239,83,80,0.2)" stroke-width="0.4"/>
<rect x="647.68" y="432.03" width="1.7" height="10.27" fill="rgba(38,166,154,0.45)" stroke="rgba(38,166,154,0.2)" stroke-width="0.4"/>
<rect x="650.17" y="433.28" width="1.7" height="9.02" fill="rgba(38,166,154,0.45)" stroke="rgba(38,166,154,0.2)" stroke-width="0.4"/>
<rect x="652.65" y="431.41" width="1.7" height="10.89" fill="rgba(38,166,154,0.45)" stroke="rgba(38,166,154,0.2)" stroke-width="0.4"/>
<rect x="655.14" y="400.16" width="1.7" height="42.14" fill="rgba(239,83,80,0.45)" stroke="rgba(239,83,80,0.2)" stroke-width="0.4"/>
<rect x="657.63" y="427.81" width="1.7" height="14.49" fill="rgba(38,166,154,0.45)" stroke="rgba(38,166,154,0.2)" stroke-width="0.4"/>
<rect x="660.12" y="432.50" width="1.7" height="9.80" fill="rgba(38,166,154,0.45)" stroke="rgba(38,166,154,0.2)" stroke-width="0.4"/>
<rect x="662.61" y="433.75" width="1.7" height="8.55" fill="rgba(239,83,80,0.45)" stroke="rgba(239,83,80,0.2)" stroke-width="0.4"/>
<rect x="665.09" y="434.06" width="1.7" height="8.24" fill="rgba(239,83,80,0.45)" stroke="rgba(239,83,80,0.2)" stroke-width="0.4"/>
<rect x="667.58" y="432.03" width="1.7" height="10.27" fill="rgba(239,83,80,0.45)" stroke="rgba(239,83,80,0.2)" stroke-width="0.4"/>
<rect x="670.07" y="427.03" width="1.7" height="15.27" fill="rgba(38,166,154,0.45)" stroke="rgba(38,166,154,0.2)" stroke-width="0.4"/>
<rect x="672.56" y="415.62" width="1.7" height="26.68" fill="rgba(38,166,154,0.45)" stroke="rgba(38,166,154,0.2)" stroke-width="0.4"/>
<rect x="675.05" y="432.50" width="1.7" height="9.80" fill="rgba(239,83,80,0.45)" stroke="rgba(239,83,80,0.2)" stroke-width="0.4"/>
<rect x="677.53" y="429.06" width="1.7" height="13.24" fill="rgba(38,166,154,0.45)" stroke="rgba(38,166,154,0.2)" stroke-width="0.4"/>
<rect x="680.02" y="432.03" width="1.7" height="10.27" fill="rgba(38,166,154,0.45)" stroke="rgba(38,166,154,0.2)" stroke-width="0.4"/>
<rect x="682.51" y="432.03" width="1.7" height="10.27" fill="rgba(38,166,154,0.45)" stroke="rgba(38,166,154,0.2)" stroke-width="0.4"/>
</g>
<rect x="170.6" y="264" width="617.8" height="15.2" fill="rgba(156,39,176,0.10)" stroke="#9c27b0" stroke-width="1.5"/>
<polyline points="221.3,130.8 288.4,263.4 402.6,113.3 489.6,253.7 587.1,124.0 656.9,263.8 691.7,114.2 755.5,265.3" fill="none" stroke="#6033b8" stroke-width="2.15" stroke-linejoin="miter" stroke-miterlimit="10" stroke-linecap="round"/>
<polyline points="741.5,260.8 755.5,265.9 762.5,252.3" fill="none" stroke="#6033b8" stroke-width="2.15" stroke-linejoin="miter" stroke-linecap="round"/>
<line x1="141" y1="112.9" x2="973.5" y2="112.9" stroke="#c41f60" stroke-width="2" stroke-dasharray="7.9 9.03"/>
<line x1="0" y1="142.2" x2="973.5" y2="142.2" stroke="#26a69a" stroke-opacity="0.55" stroke-width="1" stroke-dasharray="1 1.3"/>
<g>
<rect x="185.11" y="0.00" width="1.3" height="9.40" fill="#ef5350" fill-opacity="0.45"/>
<rect x="187.60" y="0.00" width="1.3" height="22.50" fill="#26a69a" fill-opacity="0.45"/>
<rect x="190.09" y="0.00" width="1.3" height="7.80" fill="#ef5350" fill-opacity="0.45"/>
<rect x="192.57" y="0.00" width="1.3" height="21.60" fill="#26a69a" fill-opacity="0.45"/>
<rect x="197.55" y="-5.00" width="1.3" height="24.00" fill="#ef5350" fill-opacity="0.45"/>
<rect x="197.15" y="-5.00" width="2.1" height="21.90" fill="#ef5350"/>
<rect x="200.04" y="8.10" width="1.3" height="84.40" fill="#ef5350" fill-opacity="0.45"/>
<rect x="199.64" y="9.40" width="2.1" height="58.10" fill="#ef5350"/>
<rect x="202.53" y="45.70" width="1.3" height="71.80" fill="#ef5350" fill-opacity="0.45"/>
<rect x="202.13" y="70.60" width="2.1" height="36.30" fill="#ef5350"/>
<rect x="205.01" y="105.60" width="1.3" height="61.40" fill="#ef5350" fill-opacity="0.45"/>
<rect x="204.61" y="108.75" width="2.1" height="41.85" fill="#ef5350"/>
<rect x="207.50" y="123.00" width="1.3" height="48.00" fill="#26a69a" fill-opacity="0.45"/>
<rect x="207.10" y="137.50" width="2.1" height="9.50" fill="#26a69a"/>
<rect x="209.99" y="112.50" width="1.3" height="36.50" fill="#26a69a" fill-opacity="0.45"/>
<rect x="209.59" y="138.75" width="2.1" height="1.25" fill="#26a69a"/>
<rect x="212.48" y="108.00" width="1.3" height="63.00" fill="#ef5350" fill-opacity="0.45"/>
<rect x="212.08" y="136.00" width="2.1" height="13.40" fill="#ef5350"/>
<rect x="214.97" y="142.50" width="1.3" height="83.10" fill="#ef5350" fill-opacity="0.45"/>
<rect x="214.57" y="153.00" width="2.1" height="17.60" fill="#ef5350"/>
<rect x="217.45" y="126.40" width="1.3" height="64.60" fill="#26a69a" fill-opacity="0.45"/>
<rect x="217.05" y="131.00" width="2.1" height="40.00" fill="#26a69a"/>
<rect x="219.94" y="130.00" width="1.3" height="50.60" fill="#ef5350" fill-opacity="0.45"/>
<rect x="219.54" y="131.40" width="2.1" height="38.60" fill="#ef5350"/>
<rect x="222.43" y="121.00" width="1.3" height="56.50" fill="#26a69a" fill-opacity="0.45"/>
<rect x="222.03" y="125.00" width="2.1" height="44.40" fill="#26a69a"/>
<rect x="224.92" y="117.00" width="1.3" height="40.00" fill="#ef5350" fill-opacity="0.45"/>
<rect x="224.52" y="127.00" width="2.1" height="25.00" fill="#ef5350"/>
<rect x="227.41" y="148.00" width="1.3" height="29.50" fill="#26a69a" fill-opacity="0.45"/>
<rect x="227.01" y="150.00" width="2.1" height="3.00" fill="#26a69a"/>
<rect x="229.89" y="139.00" width="1.3" height="34.00" fill="#ef5350" fill-opacity="0.45"/>
<rect x="229.49" y="150.60" width="2.1" height="21.90" fill="#ef5350"/>
<rect x="232.38" y="170.00" width="1.3" height="51.00" fill="#ef5350" fill-opacity="0.45"/>
<rect x="231.98" y="170.60" width="2.1" height="46.40" fill="#ef5350"/>
<rect x="234.87" y="195.00" width="1.3" height="66.00" fill="#26a69a" fill-opacity="0.45"/>
<rect x="234.47" y="202.00" width="2.1" height="15.00" fill="#26a69a"/>
<rect x="237.36" y="180.00" width="1.3" height="35.60" fill="#26a69a" fill-opacity="0.45"/>
<rect x="236.96" y="201.00" width="2.1" height="2.00" fill="#26a69a"/>
<rect x="239.85" y="148.00" width="1.3" height="95.00" fill="#26a69a" fill-opacity="0.45"/>
<rect x="239.45" y="172.00" width="2.1" height="30.50" fill="#26a69a"/>
<rect x="242.33" y="127.75" width="1.3" height="52.85" fill="#26a69a" fill-opacity="0.45"/>
<rect x="241.93" y="133.00" width="2.1" height="35.50" fill="#26a69a"/>
<rect x="244.82" y="123.00" width="1.3" height="29.50" fill="#ef5350" fill-opacity="0.45"/>
<rect x="244.42" y="133.50" width="2.1" height="15.25" fill="#ef5350"/>
<rect x="247.31" y="145.00" width="1.3" height="34.40" fill="#ef5350" fill-opacity="0.45"/>
<rect x="246.91" y="149.40" width="2.1" height="25.00" fill="#ef5350"/>
<rect x="249.80" y="167.00" width="1.3" height="48.60" fill="#ef5350" fill-opacity="0.45"/>
<rect x="249.40" y="175.00" width="2.1" height="31.30" fill="#ef5350"/>
<rect x="252.29" y="184.70" width="1.3" height="39.05" fill="#ef5350" fill-opacity="0.45"/>
<rect x="251.89" y="204.00" width="2.1" height="1.00" fill="#ef5350"/>
<rect x="254.77" y="193.00" width="1.3" height="24.00" fill="#ef5350" fill-opacity="0.45"/>
<rect x="254.37" y="204.75" width="2.1" height="11.25" fill="#ef5350"/>
<rect x="257.26" y="213.00" width="1.3" height="27.60" fill="#ef5350" fill-opacity="0.45"/>
<rect x="256.86" y="213.75" width="2.1" height="18.25" fill="#ef5350"/>
<rect x="259.75" y="204.00" width="1.3" height="36.60" fill="#26a69a" fill-opacity="0.45"/>
<rect x="259.35" y="229.40" width="2.1" height="3.10" fill="#26a69a"/>
<rect x="262.24" y="202.25" width="1.3" height="28.75" fill="#26a69a" fill-opacity="0.45"/>
<rect x="261.84" y="210.00" width="2.1" height="20.00" fill="#26a69a"/>
<rect x="264.73" y="206.00" width="1.3" height="15.00" fill="#ef5350" fill-opacity="0.45"/>
<rect x="264.33" y="211.60" width="2.1" height="7.15" fill="#ef5350"/>
<rect x="267.21" y="212.50" width="1.3" height="20.50" fill="#ef5350" fill-opacity="0.45"/>
<rect x="266.81" y="217.00" width="2.1" height="5.50" fill="#ef5350"/>
<rect x="269.70" y="219.00" width="1.3" height="10.00" fill="#ef5350" fill-opacity="0.45"/>
<rect x="269.30" y="222.00" width="2.1" height="2.00" fill="#ef5350"/>
<rect x="272.19" y="213.00" width="1.3" height="13.00" fill="#26a69a" fill-opacity="0.45"/>
<rect x="271.79" y="220.60" width="2.1" height="3.15" fill="#26a69a"/>
<rect x="274.68" y="214.00" width="1.3" height="14.00" fill="#ef5350" fill-opacity="0.45"/>
<rect x="274.28" y="221.00" width="2.1" height="4.60" fill="#ef5350"/>
<rect x="277.17" y="223.00" width="1.3" height="54.00" fill="#ef5350" fill-opacity="0.45"/>
<rect x="276.77" y="225.00" width="2.1" height="43.00" fill="#ef5350"/>
<rect x="279.65" y="262.00" width="1.3" height="20.50" fill="#26a69a" fill-opacity="0.45"/>
<rect x="279.25" y="268.00" width="2.1" height="2.00" fill="#26a69a"/>
<rect x="282.14" y="266.00" width="1.3" height="13.00" fill="#ef5350" fill-opacity="0.45"/>
<rect x="281.74" y="267.50" width="2.1" height="10.00" fill="#ef5350"/>
<rect x="284.63" y="272.00" width="1.3" height="49.00" fill="#ef5350" fill-opacity="0.45"/>
<rect x="284.23" y="277.00" width="2.1" height="43.60" fill="#ef5350"/>
<rect x="287.12" y="265.00" width="1.3" height="72.50" fill="#26a69a" fill-opacity="0.45"/>
<rect x="286.72" y="273.75" width="2.1" height="46.85" fill="#26a69a"/>
<rect x="289.61" y="266.00" width="1.3" height="39.00" fill="#ef5350" fill-opacity="0.45"/>
<rect x="289.21" y="273.00" width="2.1" height="25.00" fill="#ef5350"/>
<rect x="292.09" y="287.00" width="1.3" height="20.00" fill="#26a69a" fill-opacity="0.45"/>
<rect x="291.69" y="297.00" width="2.1" height="1.50" fill="#26a69a"/>
<rect x="294.58" y="228.00" width="1.3" height="70.00" fill="#26a69a" fill-opacity="0.45"/>
<rect x="294.18" y="239.00" width="2.1" height="58.50" fill="#26a69a"/>
<rect x="297.07" y="228.75" width="1.3" height="30.00" fill="#26a69a" fill-opacity="0.45"/>
<rect x="296.67" y="232.50" width="2.1" height="6.25" fill="#26a69a"/>
<rect x="299.56" y="198.00" width="1.3" height="44.50" fill="#26a69a" fill-opacity="0.45"/>
<rect x="299.16" y="213.00" width="2.1" height="19.00" fill="#26a69a"/>
<rect x="302.05" y="181.00" width="1.3" height="32.00" fill="#26a69a" fill-opacity="0.45"/>
<rect x="301.65" y="196.00" width="2.1" height="16.00" fill="#26a69a"/>
<rect x="304.53" y="194.00" width="1.3" height="45.00" fill="#ef5350" fill-opacity="0.45"/>
<rect x="304.13" y="197.00" width="2.1" height="28.00" fill="#ef5350"/>
<rect x="307.02" y="218.00" width="1.3" height="17.00" fill="#26a69a" fill-opacity="0.45"/>
<rect x="306.62" y="222.00" width="2.1" height="3.60" fill="#26a69a"/>
<rect x="309.51" y="173.00" width="1.3" height="53.00" fill="#26a69a" fill-opacity="0.45"/>
<rect x="309.11" y="182.00" width="2.1" height="43.00" fill="#26a69a"/>
<rect x="312.00" y="181.00" width="1.3" height="26.50" fill="#ef5350" fill-opacity="0.45"/>
<rect x="311.60" y="183.00" width="2.1" height="9.50" fill="#ef5350"/>
<rect x="314.49" y="192.00" width="1.3" height="29.00" fill="#ef5350" fill-opacity="0.45"/>
<rect x="314.09" y="193.00" width="2.1" height="15.75" fill="#ef5350"/>
<rect x="316.97" y="191.00" width="1.3" height="27.00" fill="#26a69a" fill-opacity="0.45"/>
<rect x="316.57" y="197.00" width="2.1" height="11.00" fill="#26a69a"/>
<rect x="319.46" y="189.00" width="1.3" height="18.00" fill="#26a69a" fill-opacity="0.45"/>
<rect x="319.06" y="193.00" width="2.1" height="4.00" fill="#26a69a"/>
<rect x="321.95" y="176.00" width="1.3" height="25.00" fill="#26a69a" fill-opacity="0.45"/>
<rect x="321.55" y="185.00" width="2.1" height="10.00" fill="#26a69a"/>
<rect x="324.44" y="170.00" width="1.3" height="20.60" fill="#ef5350" fill-opacity="0.45"/>
<rect x="324.04" y="185.00" width="2.1" height="3.75" fill="#ef5350"/>
<rect x="326.93" y="158.75" width="1.3" height="32.25" fill="#26a69a" fill-opacity="0.45"/>
<rect x="326.53" y="173.00" width="2.1" height="15.00" fill="#26a69a"/>
<rect x="329.41" y="169.40" width="1.3" height="29.60" fill="#ef5350" fill-opacity="0.45"/>
<rect x="329.01" y="172.50" width="2.1" height="26.25" fill="#ef5350"/>
<rect x="331.90" y="190.00" width="1.3" height="14.40" fill="#ef5350" fill-opacity="0.45"/>
<rect x="331.50" y="198.00" width="2.1" height="1.40" fill="#ef5350"/>
<rect x="334.39" y="198.00" width="1.3" height="22.00" fill="#ef5350" fill-opacity="0.45"/>
<rect x="333.99" y="198.75" width="2.1" height="20.65" fill="#ef5350"/>
<rect x="336.88" y="208.75" width="1.3" height="23.25" fill="#ef5350" fill-opacity="0.45"/>
<rect x="336.48" y="219.40" width="2.1" height="8.10" fill="#ef5350"/>
<rect x="339.37" y="208.75" width="1.3" height="20.65" fill="#26a69a" fill-opacity="0.45"/>
<rect x="338.97" y="214.40" width="2.1" height="13.10" fill="#26a69a"/>
<rect x="341.85" y="200.00" width="1.3" height="29.00" fill="#ef5350" fill-opacity="0.45"/>
<rect x="341.45" y="214.40" width="2.1" height="13.60" fill="#ef5350"/>
<rect x="344.34" y="219.40" width="1.3" height="18.10" fill="#ef5350" fill-opacity="0.45"/>
<rect x="343.94" y="227.00" width="2.1" height="2.40" fill="#ef5350"/>
<rect x="346.83" y="228.00" width="1.3" height="17.60" fill="#ef5350" fill-opacity="0.45"/>
<rect x="346.43" y="228.75" width="2.1" height="13.25" fill="#ef5350"/>
<rect x="349.32" y="214.40" width="1.3" height="29.35" fill="#26a69a" fill-opacity="0.45"/>
<rect x="348.92" y="226.00" width="2.1" height="15.00" fill="#26a69a"/>
<rect x="351.81" y="208.75" width="1.3" height="19.25" fill="#26a69a" fill-opacity="0.45"/>
<rect x="351.41" y="217.50" width="2.1" height="9.50" fill="#26a69a"/>
<rect x="354.29" y="203.75" width="1.3" height="14.25" fill="#26a69a" fill-opacity="0.45"/>
<rect x="353.89" y="208.75" width="2.1" height="8.75" fill="#26a69a"/>
<rect x="356.78" y="197.00" width="1.3" height="23.60" fill="#ef5350" fill-opacity="0.45"/>
<rect x="356.38" y="208.75" width="2.1" height="6.85" fill="#ef5350"/>
<rect x="359.27" y="196.00" width="1.3" height="26.50" fill="#26a69a" fill-opacity="0.45"/>
<rect x="358.87" y="197.00" width="2.1" height="18.60" fill="#26a69a"/>
<rect x="361.76" y="180.00" width="1.3" height="21.00" fill="#26a69a" fill-opacity="0.45"/>
<rect x="361.36" y="187.00" width="2.1" height="10.00" fill="#26a69a"/>
<rect x="364.25" y="173.75" width="1.3" height="14.25" fill="#26a69a" fill-opacity="0.45"/>
<rect x="363.85" y="183.00" width="2.1" height="4.00" fill="#26a69a"/>
<rect x="366.73" y="177.50" width="1.3" height="16.25" fill="#ef5350" fill-opacity="0.45"/>
<rect x="366.33" y="183.00" width="2.1" height="1.40" fill="#ef5350"/>
<rect x="369.22" y="155.00" width="1.3" height="32.00" fill="#26a69a" fill-opacity="0.45"/>
<rect x="368.82" y="156.00" width="2.1" height="29.00" fill="#26a69a"/>
<rect x="371.71" y="142.00" width="1.3" height="18.60" fill="#26a69a" fill-opacity="0.45"/>
<rect x="371.31" y="146.00" width="2.1" height="11.00" fill="#26a69a"/>
<rect x="374.20" y="137.00" width="1.3" height="26.00" fill="#26a69a" fill-opacity="0.45"/>
<rect x="373.80" y="138.00" width="2.1" height="18.00" fill="#26a69a"/>
<rect x="376.69" y="128.75" width="1.3" height="17.25" fill="#ef5350" fill-opacity="0.45"/>
<rect x="376.29" y="138.75" width="2.1" height="1.25" fill="#ef5350"/>
<rect x="379.17" y="139.00" width="1.3" height="12.00" fill="#ef5350" fill-opacity="0.45"/>
<rect x="378.77" y="140.00" width="2.1" height="2.00" fill="#ef5350"/>
<rect x="381.66" y="132.00" width="1.3" height="16.00" fill="#26a69a" fill-opacity="0.45"/>
<rect x="381.26" y="135.00" width="2.1" height="6.00" fill="#26a69a"/>
<rect x="384.15" y="130.00" width="1.3" height="16.00" fill="#ef5350" fill-opacity="0.45"/>
<rect x="383.75" y="134.40" width="2.1" height="10.60" fill="#ef5350"/>
<rect x="386.64" y="143.00" width="1.3" height="21.00" fill="#ef5350" fill-opacity="0.45"/>
<rect x="386.24" y="144.40" width="2.1" height="19.35" fill="#ef5350"/>
<rect x="389.13" y="149.00" width="1.3" height="16.00" fill="#26a69a" fill-opacity="0.45"/>
<rect x="388.73" y="150.60" width="2.1" height="13.80" fill="#26a69a"/>
<rect x="391.61" y="121.00" width="1.3" height="30.00" fill="#26a69a" fill-opacity="0.45"/>
<rect x="391.21" y="127.00" width="2.1" height="23.60" fill="#26a69a"/>
<rect x="394.10" y="128.00" width="1.3" height="10.00" fill="#ef5350" fill-opacity="0.45"/>
<rect x="393.70" y="129.40" width="2.1" height="5.60" fill="#ef5350"/>
<rect x="396.59" y="125.00" width="1.3" height="11.00" fill="#26a69a" fill-opacity="0.45"/>
<rect x="396.19" y="132.50" width="2.1" height="3.10" fill="#26a69a"/>
<rect x="399.08" y="106.00" width="1.3" height="27.00" fill="#26a69a" fill-opacity="0.45"/>
<rect x="398.68" y="112.50" width="2.1" height="20.00" fill="#26a69a"/>
<rect x="401.57" y="109.40" width="1.3" height="37.60" fill="#ef5350" fill-opacity="0.45"/>
<rect x="401.17" y="112.50" width="2.1" height="28.10" fill="#ef5350"/>
<rect x="404.05" y="135.60" width="1.3" height="10.40" fill="#26a69a" fill-opacity="0.45"/>
<rect x="403.65" y="139.40" width="2.1" height="1.60" fill="#26a69a"/>
<rect x="406.54" y="127.00" width="1.3" height="30.00" fill="#ef5350" fill-opacity="0.45"/>
<rect x="406.14" y="140.00" width="2.1" height="15.60" fill="#ef5350"/>
<rect x="409.03" y="141.00" width="1.3" height="15.00" fill="#26a69a" fill-opacity="0.45"/>
<rect x="408.63" y="142.00" width="2.1" height="13.60" fill="#26a69a"/>
<rect x="411.52" y="133.75" width="1.3" height="12.25" fill="#26a69a" fill-opacity="0.45"/>
<rect x="411.12" y="139.40" width="2.1" height="3.10" fill="#26a69a"/>
<rect x="414.01" y="133.00" width="1.3" height="11.00" fill="#ef5350" fill-opacity="0.45"/>
<rect x="413.61" y="138.75" width="2.1" height="4.25" fill="#ef5350"/>
<rect x="416.49" y="142.00" width="1.3" height="28.00" fill="#ef5350" fill-opacity="0.45"/>
<rect x="416.09" y="142.50" width="2.1" height="19.50" fill="#ef5350"/>
<rect x="418.98" y="156.00" width="1.3" height="11.50" fill="#26a69a" fill-opacity="0.45"/>
<rect x="418.58" y="157.00" width="2.1" height="5.50" fill="#26a69a"/>
<rect x="421.47" y="146.00" width="1.3" height="14.00" fill="#ef5350" fill-opacity="0.45"/>
<rect x="421.07" y="156.00" width="2.1" height="3.40" fill="#ef5350"/>
<rect x="423.96" y="159.00" width="1.3" height="16.00" fill="#ef5350" fill-opacity="0.45"/>
<rect x="423.56" y="159.40" width="2.1" height="5.60" fill="#ef5350"/>
<rect x="426.45" y="147.00" width="1.3" height="19.00" fill="#26a69a" fill-opacity="0.45"/>
<rect x="426.05" y="150.60" width="2.1" height="15.00" fill="#26a69a"/>
<rect x="428.93" y="136.00" width="1.3" height="15.00" fill="#26a69a" fill-opacity="0.45"/>
<rect x="428.53" y="142.00" width="2.1" height="8.00" fill="#26a69a"/>
<rect x="431.42" y="135.00" width="1.3" height="29.00" fill="#ef5350" fill-opacity="0.45"/>
<rect x="431.02" y="141.00" width="2.1" height="22.75" fill="#ef5350"/>
<rect x="433.91" y="158.75" width="1.3" height="23.75" fill="#ef5350" fill-opacity="0.45"/>
<rect x="433.51" y="164.40" width="2.1" height="15.60" fill="#ef5350"/>
<rect x="436.40" y="173.00" width="1.3" height="18.00" fill="#ef5350" fill-opacity="0.45"/>
<rect x="436.00" y="180.00" width="2.1" height="7.50" fill="#ef5350"/>
<rect x="438.89" y="180.60" width="1.3" height="12.40" fill="#26a69a" fill-opacity="0.45"/>
<rect x="438.49" y="187.00" width="2.1" height="1.00" fill="#26a69a"/>
<rect x="441.37" y="181.00" width="1.3" height="22.75" fill="#ef5350" fill-opacity="0.45"/>
<rect x="440.97" y="187.00" width="2.1" height="8.60" fill="#ef5350"/>
<rect x="443.86" y="190.00" width="1.3" height="19.40" fill="#ef5350" fill-opacity="0.45"/>
<rect x="443.46" y="195.60" width="2.1" height="7.40" fill="#ef5350"/>
<rect x="446.35" y="199.40" width="1.3" height="18.10" fill="#ef5350" fill-opacity="0.45"/>
<rect x="445.95" y="203.00" width="2.1" height="2.00" fill="#ef5350"/>
<rect x="448.84" y="201.00" width="1.3" height="18.40" fill="#26a69a" fill-opacity="0.45"/>
<rect x="448.44" y="202.50" width="2.1" height="1.90" fill="#26a69a"/>
<rect x="451.33" y="199.00" width="1.3" height="14.00" fill="#ef5350" fill-opacity="0.45"/>
<rect x="450.93" y="200.00" width="2.1" height="12.50" fill="#ef5350"/>
<rect x="453.81" y="210.00" width="1.3" height="14.40" fill="#ef5350" fill-opacity="0.45"/>
<rect x="453.41" y="212.50" width="2.1" height="3.50" fill="#ef5350"/>
<rect x="456.30" y="215.00" width="1.3" height="23.00" fill="#ef5350" fill-opacity="0.45"/>
<rect x="455.90" y="215.60" width="2.1" height="21.90" fill="#ef5350"/>
<rect x="458.79" y="237.00" width="1.3" height="26.00" fill="#ef5350" fill-opacity="0.45"/>
<rect x="458.39" y="238.00" width="2.1" height="22.00" fill="#ef5350"/>
<rect x="461.28" y="247.50" width="1.3" height="24.50" fill="#26a69a" fill-opacity="0.45"/>
<rect x="460.88" y="252.50" width="2.1" height="6.90" fill="#26a69a"/>
<rect x="463.77" y="245.60" width="1.3" height="14.40" fill="#ef5350" fill-opacity="0.45"/>
<rect x="463.37" y="252.50" width="2.1" height="6.25" fill="#ef5350"/>
<rect x="466.25" y="225.60" width="1.3" height="41.90" fill="#26a69a" fill-opacity="0.45"/>
<rect x="465.85" y="228.75" width="2.1" height="30.00" fill="#26a69a"/>
<rect x="468.74" y="207.00" width="1.3" height="33.00" fill="#ef5350" fill-opacity="0.45"/>
<rect x="468.34" y="232.50" width="2.1" height="6.90" fill="#ef5350"/>
<rect x="471.23" y="231.00" width="1.3" height="13.40" fill="#26a69a" fill-opacity="0.45"/>
<rect x="470.83" y="232.50" width="2.1" height="8.10" fill="#26a69a"/>
<rect x="473.72" y="222.50" width="1.3" height="28.10" fill="#ef5350" fill-opacity="0.45"/>
<rect x="473.32" y="232.00" width="2.1" height="9.25" fill="#ef5350"/>
<rect x="476.21" y="229.40" width="1.3" height="15.60" fill="#26a69a" fill-opacity="0.45"/>
<rect x="475.81" y="235.60" width="2.1" height="6.40" fill="#26a69a"/>
<rect x="478.69" y="225.00" width="1.3" height="13.00" fill="#26a69a" fill-opacity="0.45"/>
<rect x="478.29" y="232.00" width="2.1" height="5.50" fill="#26a69a"/>
<rect x="481.18" y="218.75" width="1.3" height="18.25" fill="#ef5350" fill-opacity="0.45"/>
<rect x="480.78" y="231.25" width="2.1" height="5.00" fill="#ef5350"/>
<rect x="483.67" y="232.00" width="1.3" height="18.00" fill="#ef5350" fill-opacity="0.45"/>
<rect x="483.27" y="236.25" width="2.1" height="11.25" fill="#ef5350"/>
<rect x="486.16" y="240.60" width="1.3" height="9.40" fill="#26a69a" fill-opacity="0.45"/>
<rect x="485.76" y="246.25" width="2.1" height="3.15" fill="#26a69a"/>
<rect x="488.65" y="243.75" width="1.3" height="4.25" fill="#26a69a" fill-opacity="0.45"/>
<rect x="488.25" y="245.00" width="2.1" height="2.50" fill="#26a69a"/>
<rect x="491.13" y="234.40" width="1.3" height="11.60" fill="#26a69a" fill-opacity="0.45"/>
<rect x="490.73" y="240.60" width="2.1" height="5.00" fill="#26a69a"/>
<rect x="493.62" y="225.60" width="1.3" height="15.40" fill="#26a69a" fill-opacity="0.45"/>
<rect x="493.22" y="233.00" width="2.1" height="7.60" fill="#26a69a"/>
<rect x="496.11" y="227.50" width="1.3" height="6.50" fill="#26a69a" fill-opacity="0.45"/>
<rect x="495.71" y="232.00" width="2.1" height="1.00" fill="#26a69a"/>
<rect x="498.60" y="230.60" width="1.3" height="5.40" fill="#ef5350" fill-opacity="0.45"/>
<rect x="498.20" y="232.50" width="2.1" height="2.50" fill="#ef5350"/>
<rect x="501.09" y="222.00" width="1.3" height="25.50" fill="#26a69a" fill-opacity="0.45"/>
<rect x="500.69" y="233.75" width="2.1" height="1.25" fill="#26a69a"/>
<rect x="503.57" y="233.00" width="1.3" height="7.60" fill="#ef5350" fill-opacity="0.45"/>
<rect x="503.17" y="233.75" width="2.1" height="2.50" fill="#ef5350"/>
<rect x="506.06" y="235.00" width="1.3" height="11.25" fill="#ef5350" fill-opacity="0.45"/>
<rect x="505.66" y="235.60" width="2.1" height="6.40" fill="#ef5350"/>
<rect x="508.55" y="224.40" width="1.3" height="18.60" fill="#26a69a" fill-opacity="0.45"/>
<rect x="508.15" y="225.60" width="2.1" height="16.40" fill="#26a69a"/>
<rect x="511.04" y="220.60" width="1.3" height="7.40" fill="#ef5350" fill-opacity="0.45"/>
<rect x="510.64" y="224.40" width="2.1" height="3.10" fill="#ef5350"/>
<rect x="513.53" y="227.00" width="1.3" height="15.50" fill="#ef5350" fill-opacity="0.45"/>
<rect x="513.13" y="227.50" width="2.1" height="12.50" fill="#ef5350"/>
<rect x="516.01" y="237.50" width="1.3" height="6.25" fill="#ef5350" fill-opacity="0.45"/>
<rect x="515.61" y="240.00" width="2.1" height="1.25" fill="#ef5350"/>
<rect x="518.50" y="210.60" width="1.3" height="31.40" fill="#26a69a" fill-opacity="0.45"/>
<rect x="518.10" y="212.00" width="2.1" height="29.25" fill="#26a69a"/>
<rect x="520.99" y="198.00" width="1.3" height="23.25" fill="#26a69a" fill-opacity="0.45"/>
<rect x="520.59" y="205.60" width="2.1" height="6.40" fill="#26a69a"/>
<rect x="523.48" y="193.75" width="1.3" height="12.25" fill="#26a69a" fill-opacity="0.45"/>
<rect x="523.08" y="199.40" width="2.1" height="6.20" fill="#26a69a"/>
<rect x="525.97" y="178.75" width="1.3" height="20.25" fill="#26a69a" fill-opacity="0.45"/>
<rect x="525.57" y="183.00" width="2.1" height="15.75" fill="#26a69a"/>
<rect x="528.45" y="177.00" width="1.3" height="10.50" fill="#26a69a" fill-opacity="0.45"/>
<rect x="528.05" y="182.00" width="2.1" height="1.00" fill="#26a69a"/>
<rect x="530.94" y="170.60" width="1.3" height="16.90" fill="#26a69a" fill-opacity="0.45"/>
<rect x="530.54" y="179.40" width="2.1" height="3.35" fill="#26a69a"/>
<rect x="533.43" y="178.00" width="1.3" height="28.00" fill="#ef5350" fill-opacity="0.45"/>
<rect x="533.03" y="179.40" width="2.1" height="26.20" fill="#ef5350"/>
<rect x="535.92" y="205.00" width="1.3" height="19.40" fill="#ef5350" fill-opacity="0.45"/>
<rect x="535.52" y="205.60" width="2.1" height="11.40" fill="#ef5350"/>
<rect x="538.41" y="183.00" width="1.3" height="36.40" fill="#26a69a" fill-opacity="0.45"/>
<rect x="538.01" y="186.00" width="2.1" height="31.00" fill="#26a69a"/>
<rect x="540.89" y="172.50" width="1.3" height="22.50" fill="#ef5350" fill-opacity="0.45"/>
<rect x="540.49" y="185.00" width="2.1" height="8.75" fill="#ef5350"/>
<rect x="543.38" y="182.00" width="1.3" height="23.60" fill="#ef5350" fill-opacity="0.45"/>
<rect x="542.98" y="193.00" width="2.1" height="2.00" fill="#ef5350"/>
<rect x="545.87" y="183.75" width="1.3" height="15.65" fill="#26a69a" fill-opacity="0.45"/>
<rect x="545.47" y="190.00" width="2.1" height="4.40" fill="#26a69a"/>
<rect x="548.36" y="182.00" width="1.3" height="13.00" fill="#ef5350" fill-opacity="0.45"/>
<rect x="547.96" y="190.00" width="2.1" height="3.00" fill="#ef5350"/>
<rect x="550.85" y="184.40" width="1.3" height="14.35" fill="#ef5350" fill-opacity="0.45"/>
<rect x="550.45" y="192.50" width="2.1" height="1.25" fill="#ef5350"/>
<rect x="553.33" y="172.50" width="1.3" height="21.50" fill="#26a69a" fill-opacity="0.45"/>
<rect x="552.93" y="182.50" width="2.1" height="11.25" fill="#26a69a"/>
<rect x="555.82" y="153.75" width="1.3" height="29.25" fill="#26a69a" fill-opacity="0.45"/>
<rect x="555.42" y="162.00" width="2.1" height="20.50" fill="#26a69a"/>
<rect x="558.31" y="161.00" width="1.3" height="12.75" fill="#ef5350" fill-opacity="0.45"/>
<rect x="557.91" y="162.00" width="2.1" height="6.75" fill="#ef5350"/>
<rect x="560.80" y="167.50" width="1.3" height="7.50" fill="#26a69a" fill-opacity="0.45"/>
<rect x="560.40" y="168.00" width="2.1" height="1.00" fill="#26a69a"/>
<rect x="563.29" y="160.00" width="1.3" height="9.00" fill="#26a69a" fill-opacity="0.45"/>
<rect x="562.89" y="162.50" width="2.1" height="6.25" fill="#26a69a"/>
<rect x="565.77" y="138.00" width="1.3" height="27.00" fill="#26a69a" fill-opacity="0.45"/>
<rect x="565.37" y="143.00" width="2.1" height="19.50" fill="#26a69a"/>
<rect x="568.26" y="123.00" width="1.3" height="21.00" fill="#26a69a" fill-opacity="0.45"/>
<rect x="567.86" y="126.25" width="2.1" height="16.75" fill="#26a69a"/>
<rect x="570.75" y="126.00" width="1.3" height="12.75" fill="#ef5350" fill-opacity="0.45"/>
<rect x="570.35" y="128.00" width="2.1" height="4.75" fill="#ef5350"/>
<rect x="573.24" y="111.00" width="1.3" height="25.00" fill="#26a69a" fill-opacity="0.45"/>
<rect x="572.84" y="120.00" width="2.1" height="12.50" fill="#26a69a"/>
<rect x="575.73" y="116.00" width="1.3" height="17.75" fill="#ef5350" fill-opacity="0.45"/>
<rect x="575.33" y="119.40" width="2.1" height="11.85" fill="#ef5350"/>
<rect x="578.21" y="130.00" width="1.3" height="21.00" fill="#ef5350" fill-opacity="0.45"/>
<rect x="577.81" y="131.25" width="2.1" height="11.25" fill="#ef5350"/>
<rect x="580.70" y="128.75" width="1.3" height="30.00" fill="#26a69a" fill-opacity="0.45"/>
<rect x="580.30" y="132.00" width="2.1" height="10.50" fill="#26a69a"/>
<rect x="583.19" y="127.00" width="1.3" height="18.00" fill="#26a69a" fill-opacity="0.45"/>
<rect x="582.79" y="131.25" width="2.1" height="3.75" fill="#26a69a"/>
<rect x="585.68" y="122.50" width="1.3" height="25.50" fill="#ef5350" fill-opacity="0.45"/>
<rect x="585.28" y="130.60" width="2.1" height="16.40" fill="#ef5350"/>
<rect x="588.17" y="142.00" width="1.3" height="10.00" fill="#26a69a" fill-opacity="0.45"/>
<rect x="587.77" y="145.00" width="2.1" height="2.00" fill="#26a69a"/>
<rect x="590.65" y="138.75" width="1.3" height="9.25" fill="#26a69a" fill-opacity="0.45"/>
<rect x="590.25" y="141.25" width="2.1" height="4.35" fill="#26a69a"/>
<rect x="593.14" y="139.40" width="1.3" height="11.85" fill="#ef5350" fill-opacity="0.45"/>
<rect x="592.74" y="140.60" width="2.1" height="8.15" fill="#ef5350"/>
<rect x="595.63" y="143.00" width="1.3" height="8.00" fill="#26a69a" fill-opacity="0.45"/>
<rect x="595.23" y="146.25" width="2.1" height="3.75" fill="#26a69a"/>
<rect x="598.12" y="135.00" width="1.3" height="13.00" fill="#26a69a" fill-opacity="0.45"/>
<rect x="597.72" y="143.75" width="2.1" height="3.25" fill="#26a69a"/>
<rect x="600.61" y="138.75" width="1.3" height="7.25" fill="#ef5350" fill-opacity="0.45"/>
<rect x="600.21" y="143.75" width="2.1" height="1.00" fill="#ef5350"/>
<rect x="603.09" y="144.00" width="1.3" height="18.50" fill="#ef5350" fill-opacity="0.45"/>
<rect x="602.69" y="144.40" width="2.1" height="16.20" fill="#ef5350"/>
<rect x="605.58" y="157.00" width="1.3" height="4.00" fill="#26a69a" fill-opacity="0.45"/>
<rect x="605.18" y="158.75" width="2.1" height="1.85" fill="#26a69a"/>
<rect x="608.07" y="160.00" width="1.3" height="6.00" fill="#ef5350" fill-opacity="0.45"/>
<rect x="607.67" y="160.60" width="2.1" height="4.40" fill="#ef5350"/>
<rect x="610.56" y="162.00" width="1.3" height="16.00" fill="#ef5350" fill-opacity="0.45"/>
<rect x="610.16" y="165.00" width="2.1" height="10.60" fill="#ef5350"/>
<rect x="613.05" y="168.00" width="1.3" height="8.00" fill="#26a69a" fill-opacity="0.45"/>
<rect x="612.65" y="169.40" width="2.1" height="6.20" fill="#26a69a"/>
<rect x="615.53" y="163.00" width="1.3" height="12.00" fill="#ef5350" fill-opacity="0.45"/>
<rect x="615.13" y="170.00" width="2.1" height="4.40" fill="#ef5350"/>
<rect x="618.02" y="172.00" width="1.3" height="10.00" fill="#ef5350" fill-opacity="0.45"/>
<rect x="617.62" y="174.40" width="2.1" height="6.20" fill="#ef5350"/>
<rect x="620.51" y="180.00" width="1.3" height="10.00" fill="#ef5350" fill-opacity="0.45"/>
<rect x="620.11" y="180.60" width="2.1" height="6.90" fill="#ef5350"/>
<rect x="623.00" y="183.75" width="1.3" height="4.25" fill="#ef5350" fill-opacity="0.45"/>
<rect x="622.60" y="186.50" width="2.1" height="1.00" fill="#ef5350"/>
<rect x="625.49" y="177.00" width="1.3" height="17.40" fill="#26a69a" fill-opacity="0.45"/>
<rect x="625.09" y="187.00" width="2.1" height="1.00" fill="#26a69a"/>
<rect x="627.97" y="180.00" width="1.3" height="10.00" fill="#ef5350" fill-opacity="0.45"/>
<rect x="627.57" y="187.50" width="2.1" height="1.25" fill="#ef5350"/>
<rect x="630.46" y="187.00" width="1.3" height="29.00" fill="#ef5350" fill-opacity="0.45"/>
<rect x="630.06" y="188.00" width="2.1" height="27.00" fill="#ef5350"/>
<rect x="632.95" y="213.75" width="1.3" height="9.25" fill="#ef5350" fill-opacity="0.45"/>
<rect x="632.55" y="215.00" width="2.1" height="6.25" fill="#ef5350"/>
<rect x="635.44" y="217.00" width="1.3" height="16.75" fill="#ef5350" fill-opacity="0.45"/>
<rect x="635.04" y="221.25" width="2.1" height="9.35" fill="#ef5350"/>
<rect x="637.93" y="229.00" width="1.3" height="9.75" fill="#ef5350" fill-opacity="0.45"/>
<rect x="637.53" y="230.60" width="2.1" height="1.90" fill="#ef5350"/>
<rect x="640.41" y="222.50" width="1.3" height="11.50" fill="#26a69a" fill-opacity="0.45"/>
<rect x="640.01" y="227.00" width="2.1" height="6.00" fill="#26a69a"/>
<rect x="642.90" y="219.40" width="1.3" height="30.00" fill="#ef5350" fill-opacity="0.45"/>
<rect x="642.50" y="226.25" width="2.1" height="20.75" fill="#ef5350"/>
<rect x="645.39" y="242.50" width="1.3" height="7.50" fill="#ef5350" fill-opacity="0.45"/>
<rect x="644.99" y="246.00" width="2.1" height="2.75" fill="#ef5350"/>
<rect x="647.88" y="236.00" width="1.3" height="12.00" fill="#26a69a" fill-opacity="0.45"/>
<rect x="647.48" y="240.00" width="2.1" height="7.50" fill="#26a69a"/>
<rect x="650.37" y="229.40" width="1.3" height="11.85" fill="#26a69a" fill-opacity="0.45"/>
<rect x="649.97" y="230.60" width="2.1" height="9.40" fill="#26a69a"/>
<rect x="652.85" y="223.00" width="1.3" height="8.00" fill="#26a69a" fill-opacity="0.45"/>
<rect x="652.45" y="223.75" width="2.1" height="6.25" fill="#26a69a"/>
<rect x="655.34" y="212.50" width="1.3" height="51.25" fill="#ef5350" fill-opacity="0.45"/>
<rect x="654.94" y="224.40" width="2.1" height="11.20" fill="#ef5350"/>
<rect x="657.83" y="214.40" width="1.3" height="26.85" fill="#26a69a" fill-opacity="0.45"/>
<rect x="657.43" y="226.25" width="2.1" height="9.35" fill="#26a69a"/>
<rect x="660.32" y="202.00" width="1.3" height="25.00" fill="#26a69a" fill-opacity="0.45"/>
<rect x="659.92" y="203.75" width="2.1" height="22.50" fill="#26a69a"/>
<rect x="662.81" y="198.00" width="1.3" height="8.00" fill="#ef5350" fill-opacity="0.45"/>
<rect x="662.41" y="203.75" width="2.1" height="1.85" fill="#ef5350"/>
<rect x="665.29" y="205.00" width="1.3" height="11.00" fill="#ef5350" fill-opacity="0.45"/>
<rect x="664.89" y="205.60" width="2.1" height="9.40" fill="#ef5350"/>
<rect x="667.78" y="213.00" width="1.3" height="15.00" fill="#ef5350" fill-opacity="0.45"/>
<rect x="667.38" y="213.75" width="2.1" height="10.00" fill="#ef5350"/>
<rect x="670.27" y="185.00" width="1.3" height="41.25" fill="#26a69a" fill-opacity="0.45"/>
<rect x="669.87" y="189.40" width="2.1" height="34.35" fill="#26a69a"/>
<rect x="672.76" y="147.60" width="1.3" height="42.40" fill="#26a69a" fill-opacity="0.45"/>
<rect x="672.36" y="157.90" width="2.1" height="31.10" fill="#26a69a"/>
<rect x="675.25" y="154.00" width="1.3" height="12.00" fill="#ef5350" fill-opacity="0.45"/>
<rect x="674.85" y="157.90" width="2.1" height="1.00" fill="#ef5350"/>
<rect x="677.73" y="142.25" width="1.3" height="16.75" fill="#26a69a" fill-opacity="0.45"/>
<rect x="677.33" y="154.75" width="2.1" height="3.75" fill="#26a69a"/>
<rect x="680.22" y="145.40" width="1.3" height="9.60" fill="#26a69a" fill-opacity="0.45"/>
<rect x="679.82" y="147.90" width="2.1" height="6.85" fill="#26a69a"/>
<rect x="682.71" y="137.25" width="1.3" height="14.75" fill="#26a69a" fill-opacity="0.45"/>
<rect x="682.31" y="142.25" width="2.1" height="5.65" fill="#26a69a"/>
</g>
<polyline points="402.6,113.3 489.6,253.7 587.1,124.0 656.9,263.8 691.7,114.2 755.5,265.3" fill="none" stroke="#6033b8" stroke-opacity="0.6" stroke-width="2.15" stroke-linejoin="miter" stroke-miterlimit="10" stroke-linecap="round"/>
<rect x="973.5" y="0" width="50.5" height="467" fill="#ffffff"/>
<rect x="0" y="443.3" width="1024" height="23.7" fill="#ffffff"/>
<line x1="0" y1="442.8" x2="1024" y2="442.8" stroke="#e4e7ec" stroke-width="1"/>
<line x1="973.7" y1="0" x2="973.7" y2="463.8" stroke="#e4e7ec" stroke-width="1"/>
<rect x="0" y="463.6" width="1024" height="3.4" fill="#f0f2f5"/>
<rect x="0" y="0" width="1024" height="1" fill="#f1f3f6"/>
<rect x="0" y="0" width="1.2" height="464" fill="#f1f3f6"/>
<g font-size="9.6" fill="#131722" stroke="#131722" stroke-width="0.12">
<text x="981.6" y="435.90" textLength="31.0" lengthAdjust="spacing">720.00</text>
<text x="981.6" y="412.69" textLength="31.0" lengthAdjust="spacing">760.00</text>
<text x="981.6" y="389.48" textLength="31.0" lengthAdjust="spacing">800.00</text>
<text x="981.6" y="366.28" textLength="31.0" lengthAdjust="spacing">840.00</text>
<text x="981.6" y="343.07" textLength="31.0" lengthAdjust="spacing">880.00</text>
<text x="981.6" y="319.86" textLength="31.0" lengthAdjust="spacing">920.00</text>
<text x="981.6" y="296.65" textLength="31.0" lengthAdjust="spacing">960.00</text>
<text x="981.6" y="273.44" textLength="36.4" lengthAdjust="spacing">1000.00</text>
<text x="981.6" y="250.24" textLength="36.4" lengthAdjust="spacing">1040.00</text>
<text x="981.6" y="227.03" textLength="36.4" lengthAdjust="spacing">1080.00</text>
<text x="981.6" y="203.82" textLength="36.4" lengthAdjust="spacing">1120.00</text>
<text x="981.6" y="180.61" textLength="36.4" lengthAdjust="spacing">1160.00</text>
<text x="981.6" y="134.20" textLength="36.4" lengthAdjust="spacing">1240.00</text>
<text x="981.6" y="110.99" textLength="36.4" lengthAdjust="spacing">1280.00</text>
<text x="981.6" y="87.78" textLength="36.4" lengthAdjust="spacing">1320.00</text>
<text x="981.6" y="64.57" textLength="36.4" lengthAdjust="spacing">1360.00</text>
<text x="981.6" y="41.36" textLength="36.4" lengthAdjust="spacing">1400.00</text>
<text x="981.4" y="13.1" textLength="18.6" lengthAdjust="spacing">USD</text>
</g>
<rect x="973.4" y="106.5" width="49.4" height="12.7" rx="1.6" fill="#c2185b"/>
<rect x="973.4" y="106.5" width="3" height="12.7" fill="#c2185b"/>
<text x="982.5" y="115.8" font-size="9.6" fill="#ffffff" textLength="35.3" lengthAdjust="spacing">1270.87</text>
<rect x="973.4" y="135.5" width="49.4" height="23.7" rx="1.6" fill="#26a69a"/>
<rect x="973.4" y="135.5" width="3" height="23.7" fill="#26a69a"/>
<text x="982.5" y="144.9" font-size="9.6" fill="#ffffff" textLength="35.3" lengthAdjust="spacing">1220.81</text>
<text x="982.5" y="155.6" font-size="9.6" fill="#ffffff" fill-opacity="0.8" textLength="24.5" lengthAdjust="spacing">57:38</text>
<g font-size="9.6" fill="#131722" text-anchor="middle" stroke="#131722" stroke-width="0.12">
<text x="19.14" y="456.8" font-weight="700">Jun</text>
<text x="93.79" y="456.8">6</text>
<text x="198.30" y="456.8">13</text>
<text x="302.81" y="456.8">20</text>
<text x="377.46" y="456.8">25</text>
<text x="467.04" y="456.8" font-weight="700">Jul</text>
<text x="541.69" y="456.8">6</text>
<text x="616.34" y="456.8">11</text>
<text x="720.85" y="456.8">18</text>
<text x="825.36" y="456.8">25</text>
<text x="929.87" y="456.8" font-weight="700">Aug</text>
</g>
<g font-size="9.45" fill="#131722" stroke-width="0.12">
<text x="7.4" y="16.9" stroke="#131722" textLength="155.7" lengthAdjust="spacing">Ethereum / U.S. Dollar, 4h, BINANCE</text>
<text x="169.7" y="16.9" stroke="#131722" textLength="38.6" lengthAdjust="spacing">O<tspan fill="#26a69a" stroke="#26a69a">1211.22</tspan></text>
<text x="214.5" y="16.9" stroke="#131722" textLength="41.3" lengthAdjust="spacing">H<tspan fill="#26a69a" stroke="#26a69a">1229.04</tspan></text>
<text x="261.6" y="16.9" stroke="#131722" textLength="39.0" lengthAdjust="spacing">L<tspan fill="#26a69a" stroke="#26a69a">1202.75</tspan></text>
<text x="306.2" y="16.9" stroke="#131722" textLength="39.5" lengthAdjust="spacing">C<tspan fill="#26a69a" stroke="#26a69a">1220.81</tspan></text>
<text x="351.8" y="16.9" fill="#26a69a" stroke="#26a69a" textLength="66.8" lengthAdjust="spacing">+9.56 (+0.79%)</text>
<text x="425.1" y="16.9" stroke="#131722" textLength="48.5" lengthAdjust="spacing">Vol<tspan fill="#26a69a" stroke="#26a69a">18.806K</tspan></text>
<text x="7.4" y="29.9" stroke="#131722" textLength="13.2" lengthAdjust="spacing">Vol</text>
<text x="26.4" y="29.9" fill="#26a69a" stroke="#26a69a" textLength="34.8" lengthAdjust="spacing">18.806K</text>
</g>
</svg>
</body></html>
